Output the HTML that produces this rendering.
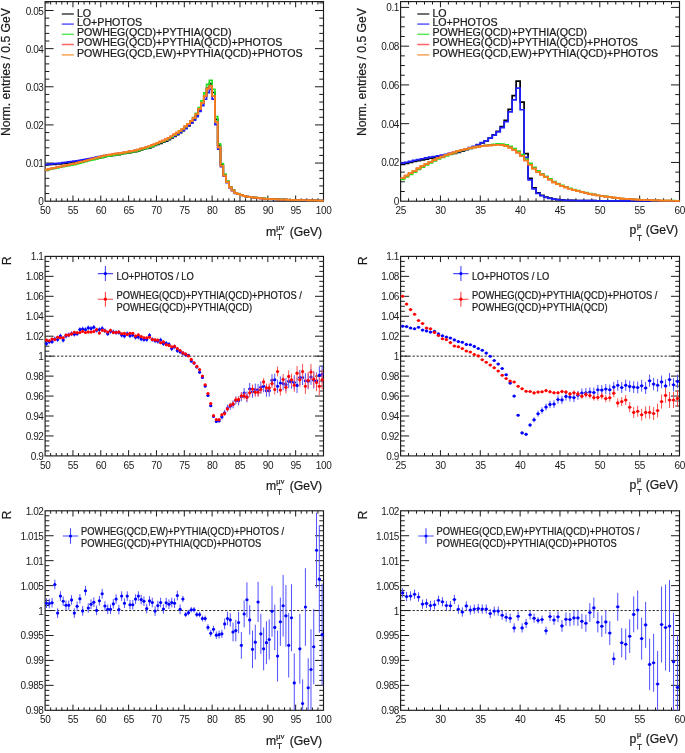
<!DOCTYPE html>
<html><head><meta charset="utf-8"><title>W boson mT and pT distributions</title>
<style>html,body{margin:0;padding:0;background:#fff;}body{width:685px;height:753px;overflow:hidden;}svg{display:block;will-change:transform;}</style>
</head><body>
<svg width="685" height="753" viewBox="0 0 685 753" font-family='"Liberation Sans", sans-serif'>
<style>text{stroke:#1a1a1a;stroke-width:0.22px;}text.t{stroke:none;}</style>
<rect width="685" height="753" fill="#fff"/>
<path d="M50.67 201.2v-2.9M50.67 1.6v2.9M56.24 201.2v-2.9M56.24 1.6v2.9M61.8 201.2v-2.9M61.8 1.6v2.9M67.37 201.2v-2.9M67.37 1.6v2.9M72.94 201.2v-5.7M72.94 1.6v5.7M78.51 201.2v-2.9M78.51 1.6v2.9M84.08 201.2v-2.9M84.08 1.6v2.9M89.64 201.2v-2.9M89.64 1.6v2.9M95.21 201.2v-2.9M95.21 1.6v2.9M100.78 201.2v-5.7M100.78 1.6v5.7M106.35 201.2v-2.9M106.35 1.6v2.9M111.92 201.2v-2.9M111.92 1.6v2.9M117.48 201.2v-2.9M117.48 1.6v2.9M123.05 201.2v-2.9M123.05 1.6v2.9M128.62 201.2v-5.7M128.62 1.6v5.7M134.19 201.2v-2.9M134.19 1.6v2.9M139.76 201.2v-2.9M139.76 1.6v2.9M145.32 201.2v-2.9M145.32 1.6v2.9M150.89 201.2v-2.9M150.89 1.6v2.9M156.46 201.2v-5.7M156.46 1.6v5.7M162.03 201.2v-2.9M162.03 1.6v2.9M167.6 201.2v-2.9M167.6 1.6v2.9M173.16 201.2v-2.9M173.16 1.6v2.9M178.73 201.2v-2.9M178.73 1.6v2.9M184.3 201.2v-5.7M184.3 1.6v5.7M189.87 201.2v-2.9M189.87 1.6v2.9M195.44 201.2v-2.9M195.44 1.6v2.9M201 201.2v-2.9M201 1.6v2.9M206.57 201.2v-2.9M206.57 1.6v2.9M212.14 201.2v-5.7M212.14 1.6v5.7M217.71 201.2v-2.9M217.71 1.6v2.9M223.28 201.2v-2.9M223.28 1.6v2.9M228.84 201.2v-2.9M228.84 1.6v2.9M234.41 201.2v-2.9M234.41 1.6v2.9M239.98 201.2v-5.7M239.98 1.6v5.7M245.55 201.2v-2.9M245.55 1.6v2.9M251.12 201.2v-2.9M251.12 1.6v2.9M256.68 201.2v-2.9M256.68 1.6v2.9M262.25 201.2v-2.9M262.25 1.6v2.9M267.82 201.2v-5.7M267.82 1.6v5.7M273.39 201.2v-2.9M273.39 1.6v2.9M278.96 201.2v-2.9M278.96 1.6v2.9M284.52 201.2v-2.9M284.52 1.6v2.9M290.09 201.2v-2.9M290.09 1.6v2.9M295.66 201.2v-5.7M295.66 1.6v5.7M301.23 201.2v-2.9M301.23 1.6v2.9M306.8 201.2v-2.9M306.8 1.6v2.9M312.36 201.2v-2.9M312.36 1.6v2.9M317.93 201.2v-2.9M317.93 1.6v2.9M45.1 193.57h4.2M323.5 193.57h-4.2M45.1 185.94h4.2M323.5 185.94h-4.2M45.1 178.32h4.2M323.5 178.32h-4.2M45.1 170.69h4.2M323.5 170.69h-4.2M45.1 163.06h8.5M323.5 163.06h-8.5M45.1 155.43h4.2M323.5 155.43h-4.2M45.1 147.8h4.2M323.5 147.8h-4.2M45.1 140.18h4.2M323.5 140.18h-4.2M45.1 132.55h4.2M323.5 132.55h-4.2M45.1 124.92h8.5M323.5 124.92h-8.5M45.1 117.29h4.2M323.5 117.29h-4.2M45.1 109.66h4.2M323.5 109.66h-4.2M45.1 102.04h4.2M323.5 102.04h-4.2M45.1 94.41h4.2M323.5 94.41h-4.2M45.1 86.78h8.5M323.5 86.78h-8.5M45.1 79.15h4.2M323.5 79.15h-4.2M45.1 71.52h4.2M323.5 71.52h-4.2M45.1 63.9h4.2M323.5 63.9h-4.2M45.1 56.27h4.2M323.5 56.27h-4.2M45.1 48.64h8.5M323.5 48.64h-8.5M45.1 41.01h4.2M323.5 41.01h-4.2M45.1 33.38h4.2M323.5 33.38h-4.2M45.1 25.76h4.2M323.5 25.76h-4.2M45.1 18.13h4.2M323.5 18.13h-4.2M45.1 10.5h8.5M323.5 10.5h-8.5M45.1 2.87h4.2M323.5 2.87h-4.2" stroke="#1a1a1a" stroke-width="1" fill="none"/>
<rect x="45.1" y="1.6" width="278.4" height="199.6" fill="none" stroke="#1a1a1a" stroke-width="1.15"/>
<text x="43.5" y="205.2" class="t" text-anchor="end" font-size="10.0" fill="#1a1a1a" letter-spacing="-0.4">0</text>
<text x="43.5" y="167.06" class="t" text-anchor="end" font-size="10.0" fill="#1a1a1a" letter-spacing="-0.4">0.01</text>
<text x="43.5" y="128.92" class="t" text-anchor="end" font-size="10.0" fill="#1a1a1a" letter-spacing="-0.4">0.02</text>
<text x="43.5" y="90.78" class="t" text-anchor="end" font-size="10.0" fill="#1a1a1a" letter-spacing="-0.4">0.03</text>
<text x="43.5" y="52.64" class="t" text-anchor="end" font-size="10.0" fill="#1a1a1a" letter-spacing="-0.4">0.04</text>
<text x="43.5" y="14.5" class="t" text-anchor="end" font-size="10.0" fill="#1a1a1a" letter-spacing="-0.4">0.05</text>
<text x="45.25" y="213.8" class="t" text-anchor="middle" font-size="10.0" fill="#1a1a1a" letter-spacing="-0.3">50</text>
<text x="73.09" y="213.8" class="t" text-anchor="middle" font-size="10.0" fill="#1a1a1a" letter-spacing="-0.3">55</text>
<text x="100.93" y="213.8" class="t" text-anchor="middle" font-size="10.0" fill="#1a1a1a" letter-spacing="-0.3">60</text>
<text x="128.77" y="213.8" class="t" text-anchor="middle" font-size="10.0" fill="#1a1a1a" letter-spacing="-0.3">65</text>
<text x="156.61" y="213.8" class="t" text-anchor="middle" font-size="10.0" fill="#1a1a1a" letter-spacing="-0.3">70</text>
<text x="184.45" y="213.8" class="t" text-anchor="middle" font-size="10.0" fill="#1a1a1a" letter-spacing="-0.3">75</text>
<text x="212.29" y="213.8" class="t" text-anchor="middle" font-size="10.0" fill="#1a1a1a" letter-spacing="-0.3">80</text>
<text x="240.13" y="213.8" class="t" text-anchor="middle" font-size="10.0" fill="#1a1a1a" letter-spacing="-0.3">85</text>
<text x="267.97" y="213.8" class="t" text-anchor="middle" font-size="10.0" fill="#1a1a1a" letter-spacing="-0.3">90</text>
<text x="295.81" y="213.8" class="t" text-anchor="middle" font-size="10.0" fill="#1a1a1a" letter-spacing="-0.3">95</text>
<text x="323.65" y="213.8" class="t" text-anchor="middle" font-size="10.0" fill="#1a1a1a" letter-spacing="-0.3">100</text>
<path d="M45.1 164.93H47.88V164.71H50.67V164.44H53.45V164.28H56.24V164.01H59.02V163.83H61.8V163.29H64.59V163.07H67.37V162.75H70.16V162.44H72.94V162.07H75.72V161.63H78.51V161.3H81.29V160.85H84.08V160.37H86.86V159.99H89.64V159.47H92.43V158.98H95.21V158.33H98V157.83H100.78V157.36H103.56V156.75H106.35V156.2H109.13V155.88H111.92V155.44H114.7V155H117.48V154.58H120.27V154.02H123.05V153.52H125.84V153.17H128.62V152.62H131.4V152.21H134.19V151.57H136.97V150.81H139.76V149.95H142.54V149.15H145.32V148.39H148.11V147.84H150.89V146.55H153.68V145.38H156.46V144.28H159.24V143.35H162.03V142.27H164.81V141.16H167.6V139.72H170.38V137.96H173.16V136.44H175.95V134.54H178.73V132.65H181.52V130.7H184.3V128.44H187.08V125.83H189.87V122.81H192.65V119.7H195.44V115.67H198.22V109.97H201V103.47H203.79V96.1H206.57V88.18H209.36V83.64H212.14V92.52H214.92V119.29H217.71V145.42H220.49V164.44H223.28V174.77H226.06V181.55H228.84V187.06H231.63V190.21H234.41V192.99H237.2V193.77H239.98V194.97H242.76V195.96H245.55V196.59H248.33V197.09H251.12V197.37H253.9V197.67H256.68V197.96H259.47V198.24H262.25V198.5H265.04V198.75H267.82V198.95H270.6V199.12H273.39V199.26H276.17V199.39H278.96V199.52H281.74V199.61H284.52V199.71H287.31V199.81H290.09V199.91H292.88V200H295.66V200.08H298.44V200.14H301.23V200.2H304.01V200.26H306.8V200.32H309.58V200.39H312.36V200.44H315.15V200.5H317.93V200.57H320.72V200.63H323.5" stroke="#000000" stroke-width="1.7" fill="none" stroke-linejoin="miter"/>
<path d="M45.1 164.48H47.88V164.18H50.67V163.91H53.45V163.64H56.24V163.39H59.02V163.07H61.8V162.68H64.59V162.31H67.37V161.93H70.16V161.57H72.94V161.22H75.72V160.74H78.51V160.24H81.29V159.76H84.08V159.28H86.86V158.82H89.64V158.31H92.43V157.76H95.21V157.21H98V156.67H100.78V156.14H103.56V155.62H106.35V155.18H109.13V154.76H111.92V154.33H114.7V153.9H117.48V153.48H120.27V153.02H123.05V152.55H125.84V152.09H128.62V151.63H131.4V151.18H134.19V150.62H136.97V149.84H139.76V149.06H142.54V148.28H145.32V147.5H148.11V146.73H150.89V145.64H153.68V144.52H156.46V143.44H159.24V142.42H162.03V141.53H164.81V140.39H167.6V139H170.38V137.48H173.16V135.83H175.95V134.17H178.73V132.36H181.52V130.5H184.3V128.33H187.08V125.77H189.87V123.2H192.65V120.27H195.44V116.6H198.22V111.44H201V105.55H203.79V99.25H206.57V92.62H209.36V89.47H212.14V99.09H214.92V124.65H217.71V149.04H220.49V166.68H223.28V176.27H226.06V182.57H228.84V187.77H231.63V190.74H234.41V193.35H237.2V194.1H239.98V195.22H242.76V196.15H245.55V196.78H248.33V197.23H251.12V197.51H253.9V197.79H256.68V198.07H259.47V198.33H262.25V198.58H265.04V198.83H267.82V199.03H270.6V199.17H273.39V199.31H276.17V199.45H278.96V199.56H281.74V199.66H284.52V199.75H287.31V199.85H290.09V199.94H292.88V200.03H295.66V200.11H298.44V200.17H301.23V200.23H304.01V200.29H306.8V200.34H309.58V200.4H312.36V200.46H315.15V200.52H317.93V200.58H320.72V200.64H323.5" stroke="#1f1fff" stroke-width="1.7" fill="none" stroke-linejoin="miter"/>
<path d="M45.1 170.04H47.88V169.44H50.67V168.91H53.45V168.31H56.24V167.81H59.02V167.21H61.8V166.64H64.59V166.16H67.37V165.59H70.16V165.06H72.94V164.55H75.72V163.84H78.51V163.12H81.29V162.44H84.08V161.68H86.86V160.97H89.64V160.25H92.43V159.53H95.21V158.88H98V158H100.78V157.4H103.56V156.64H106.35V156.13H109.13V155.78H111.92V155.24H114.7V154.81H117.48V154.41H120.27V153.87H123.05V153.42H125.84V152.89H128.62V152.48H131.4V152.01H134.19V151.31H136.97V150.58H139.76V149.69H142.54V148.83H145.32V148.03H148.11V147.27H150.89V146.04H153.68V144.88H156.46V143.73H159.24V142.46H162.03V141.53H164.81V140.11H167.6V138.56H170.38V136.84H173.16V135.11H175.95V133.19H178.73V131.12H181.52V128.97H184.3V126.6H187.08V123.8H189.87V120.84H192.65V117.49H195.44V113.34H198.22V107.64H201V100.8H203.79V92.82H206.57V84.31H209.36V80.27H212.14V89.27H214.92V116.48H217.71V143.77H220.49V163.52H223.28V174.09H226.06V181.07H228.84V186.76H231.63V189.98H234.41V192.82H237.2V193.63H239.98V194.85H242.76V195.84H245.55V196.49H248.33V196.99H251.12V197.31H253.9V197.59H256.68V197.89H259.47V198.17H262.25V198.46H265.04V198.71H267.82V198.91H270.6V199.07H273.39V199.2H276.17V199.38H278.96V199.47H281.74V199.59H284.52V199.67H287.31V199.79H290.09V199.88H292.88V199.97H295.66V200.07H298.44V200.12H301.23V200.19H304.01V200.24H306.8V200.31H309.58V200.37H312.36V200.43H315.15V200.49H317.93V200.55H320.72V200.61H323.5" stroke="#22e022" stroke-width="1.7" fill="none" stroke-linejoin="miter"/>
<path d="M45.1 169.54H47.88V168.95H50.67V168.36H53.45V167.76H56.24V167.17H59.02V166.58H61.8V166H64.59V165.42H67.37V164.84H70.16V164.25H72.94V163.67H75.72V162.96H78.51V162.22H81.29V161.48H84.08V160.74H86.86V160H89.64V159.25H92.43V158.5H95.21V157.75H98V157.01H100.78V156.26H103.56V155.51H106.35V155.04H109.13V154.6H111.92V154.16H114.7V153.72H117.48V153.28H120.27V152.81H123.05V152.33H125.84V151.85H128.62V151.37H131.4V150.89H134.19V150.31H136.97V149.49H139.76V148.68H142.54V147.87H145.32V147.06H148.11V146.25H150.89V145.12H153.68V143.96H156.46V142.8H159.24V141.67H162.03V140.68H164.81V139.41H167.6V137.89H170.38V136.23H173.16V134.45H175.95V132.68H178.73V130.73H181.52V128.73H184.3V126.45H187.08V123.78H189.87V121.11H192.65V118.05H195.44V114.24H198.22V108.9H201V102.8H203.79V95.93H206.57V88.69H209.36V86.02H212.14V95.93H214.92V121.87H217.71V147.42H220.49V165.73H223.28V175.65H226.06V182.13H228.84V187.47H231.63V190.52H234.41V193.19H237.2V193.95H239.98V195.1H242.76V196.05H245.55V196.69H248.33V197.15H251.12V197.43H253.9V197.72H256.68V198.01H259.47V198.28H262.25V198.53H265.04V198.78H267.82V198.98H270.6V199.13H273.39V199.27H276.17V199.41H278.96V199.53H281.74V199.63H284.52V199.72H287.31V199.82H290.09V199.91H292.88V200.01H295.66V200.09H298.44V200.15H301.23V200.21H304.01V200.27H306.8V200.33H309.58V200.39H312.36V200.45H315.15V200.51H317.93V200.57H320.72V200.63H323.5" stroke="#ff3030" stroke-width="1.7" fill="none" stroke-linejoin="miter"/>
<path d="M45.1 169.54H47.88V168.95H50.67V168.36H53.45V167.76H56.24V167.17H59.02V166.58H61.8V166H64.59V165.42H67.37V164.84H70.16V164.25H72.94V163.67H75.72V162.96H78.51V162.22H81.29V161.48H84.08V160.74H86.86V160H89.64V159.25H92.43V158.5H95.21V157.75H98V157.01H100.78V156.26H103.56V155.51H106.35V155.04H109.13V154.6H111.92V154.16H114.7V153.72H117.48V153.28H120.27V152.81H123.05V152.33H125.84V151.85H128.62V151.37H131.4V150.89H134.19V150.31H136.97V149.49H139.76V148.68H142.54V147.87H145.32V147.06H148.11V146.25H150.89V145.12H153.68V143.96H156.46V142.8H159.24V141.67H162.03V140.68H164.81V139.41H167.6V137.89H170.38V136.23H173.16V134.45H175.95V132.68H178.73V130.73H181.52V128.73H184.3V126.45H187.08V123.78H189.87V121.11H192.65V118.05H195.44V114.24H198.22V108.9H201V102.8H203.79V95.93H206.57V88.69H209.36V86.02H212.14V95.93H214.92V121.87H217.71V147.42H220.49V165.73H223.28V175.65H226.06V182.13H228.84V187.47H231.63V190.52H234.41V193.19H237.2V193.95H239.98V195.1H242.76V196.05H245.55V196.69H248.33V197.15H251.12V197.43H253.9V197.72H256.68V198.01H259.47V198.28H262.25V198.53H265.04V198.78H267.82V198.98H270.6V199.13H273.39V199.27H276.17V199.41H278.96V199.53H281.74V199.63H284.52V199.72H287.31V199.82H290.09V199.91H292.88V200.01H295.66V200.09H298.44V200.15H301.23V200.21H304.01V200.27H306.8V200.33H309.58V200.39H312.36V200.45H315.15V200.51H317.93V200.57H320.72V200.63H323.5" stroke="#f5841f" stroke-width="1.7" fill="none" stroke-linejoin="miter"/>
<text transform="translate(10.4 8) rotate(-90)" text-anchor="end" font-size="12.2" fill="#1a1a1a">Norm. entries / 0.5 GeV</text>
<text x="322.2" y="235.8" text-anchor="end" font-size="12.2" fill="#1a1a1a">(GeV)</text>
<text x="266.1" y="235.8" font-size="12.2" fill="#1a1a1a">m</text>
<text x="275.9" y="229.9" font-size="8.6" fill="#1a1a1a" font-family="Liberation Serif, serif">&#956;&#957;</text>
<text x="276.9" y="240" font-size="8.2" fill="#1a1a1a">T</text>
<path d="M61.8 14h12" stroke="#000000" stroke-width="1.5" opacity="0.75"/>
<text x="76.9" y="16.6" font-size="10.65" fill="#1a1a1a">LO</text>
<path d="M61.8 24.1h12" stroke="#1f1fff" stroke-width="1.5" opacity="0.75"/>
<text x="76.9" y="26.4" font-size="10.65" fill="#1a1a1a">LO+PHOTOS</text>
<path d="M61.8 34.3h12" stroke="#22e022" stroke-width="1.5" opacity="0.75"/>
<text x="76.9" y="36.4" font-size="10.65" fill="#1a1a1a">POWHEG(QCD)+PYTHIA(QCD)</text>
<path d="M61.8 44.5h12" stroke="#ff3030" stroke-width="1.5" opacity="0.75"/>
<text x="76.9" y="46.4" font-size="10.65" fill="#1a1a1a">POWHEG(QCD)+PYTHIA(QCD)+PHOTOS</text>
<path d="M61.8 54.9h12" stroke="#f5841f" stroke-width="1.5" opacity="0.75"/>
<text x="76.9" y="56.6" font-size="10.65" fill="#1a1a1a">POWHEG(QCD,EW)+PYTHIA(QCD)+PHOTOS</text>
<path d="M408.57 201.2v-2.9M408.57 1.6v2.9M416.54 201.2v-2.9M416.54 1.6v2.9M424.51 201.2v-2.9M424.51 1.6v2.9M432.47 201.2v-2.9M432.47 1.6v2.9M440.44 201.2v-5.7M440.44 1.6v5.7M448.41 201.2v-2.9M448.41 1.6v2.9M456.38 201.2v-2.9M456.38 1.6v2.9M464.35 201.2v-2.9M464.35 1.6v2.9M472.32 201.2v-2.9M472.32 1.6v2.9M480.29 201.2v-5.7M480.29 1.6v5.7M488.25 201.2v-2.9M488.25 1.6v2.9M496.22 201.2v-2.9M496.22 1.6v2.9M504.19 201.2v-2.9M504.19 1.6v2.9M512.16 201.2v-2.9M512.16 1.6v2.9M520.13 201.2v-5.7M520.13 1.6v5.7M528.1 201.2v-2.9M528.1 1.6v2.9M536.07 201.2v-2.9M536.07 1.6v2.9M544.03 201.2v-2.9M544.03 1.6v2.9M552 201.2v-2.9M552 1.6v2.9M559.97 201.2v-5.7M559.97 1.6v5.7M567.94 201.2v-2.9M567.94 1.6v2.9M575.91 201.2v-2.9M575.91 1.6v2.9M583.88 201.2v-2.9M583.88 1.6v2.9M591.85 201.2v-2.9M591.85 1.6v2.9M599.81 201.2v-5.7M599.81 1.6v5.7M607.78 201.2v-2.9M607.78 1.6v2.9M615.75 201.2v-2.9M615.75 1.6v2.9M623.72 201.2v-2.9M623.72 1.6v2.9M631.69 201.2v-2.9M631.69 1.6v2.9M639.66 201.2v-5.7M639.66 1.6v5.7M647.63 201.2v-2.9M647.63 1.6v2.9M655.59 201.2v-2.9M655.59 1.6v2.9M663.56 201.2v-2.9M663.56 1.6v2.9M671.53 201.2v-2.9M671.53 1.6v2.9M400.6 191.51h4.2M679.5 191.51h-4.2M400.6 181.82h4.2M679.5 181.82h-4.2M400.6 172.13h4.2M679.5 172.13h-4.2M400.6 162.44h8.5M679.5 162.44h-8.5M400.6 152.75h4.2M679.5 152.75h-4.2M400.6 143.06h4.2M679.5 143.06h-4.2M400.6 133.37h4.2M679.5 133.37h-4.2M400.6 123.68h8.5M679.5 123.68h-8.5M400.6 113.99h4.2M679.5 113.99h-4.2M400.6 104.3h4.2M679.5 104.3h-4.2M400.6 94.61h4.2M679.5 94.61h-4.2M400.6 84.92h8.5M679.5 84.92h-8.5M400.6 75.23h4.2M679.5 75.23h-4.2M400.6 65.54h4.2M679.5 65.54h-4.2M400.6 55.85h4.2M679.5 55.85h-4.2M400.6 46.16h8.5M679.5 46.16h-8.5M400.6 36.47h4.2M679.5 36.47h-4.2M400.6 26.78h4.2M679.5 26.78h-4.2M400.6 17.09h4.2M679.5 17.09h-4.2M400.6 7.4h8.5M679.5 7.4h-8.5" stroke="#1a1a1a" stroke-width="1" fill="none"/>
<rect x="400.6" y="1.6" width="278.9" height="199.6" fill="none" stroke="#1a1a1a" stroke-width="1.15"/>
<text x="399" y="205.2" class="t" text-anchor="end" font-size="10.0" fill="#1a1a1a" letter-spacing="-0.4">0</text>
<text x="399" y="166.44" class="t" text-anchor="end" font-size="10.0" fill="#1a1a1a" letter-spacing="-0.4">0.02</text>
<text x="399" y="127.68" class="t" text-anchor="end" font-size="10.0" fill="#1a1a1a" letter-spacing="-0.4">0.04</text>
<text x="399" y="88.92" class="t" text-anchor="end" font-size="10.0" fill="#1a1a1a" letter-spacing="-0.4">0.06</text>
<text x="399" y="50.16" class="t" text-anchor="end" font-size="10.0" fill="#1a1a1a" letter-spacing="-0.4">0.08</text>
<text x="399" y="11.4" class="t" text-anchor="end" font-size="10.0" fill="#1a1a1a" letter-spacing="-0.4">0.1</text>
<text x="400.75" y="213.8" class="t" text-anchor="middle" font-size="10.0" fill="#1a1a1a" letter-spacing="-0.3">25</text>
<text x="440.59" y="213.8" class="t" text-anchor="middle" font-size="10.0" fill="#1a1a1a" letter-spacing="-0.3">30</text>
<text x="480.44" y="213.8" class="t" text-anchor="middle" font-size="10.0" fill="#1a1a1a" letter-spacing="-0.3">35</text>
<text x="520.28" y="213.8" class="t" text-anchor="middle" font-size="10.0" fill="#1a1a1a" letter-spacing="-0.3">40</text>
<text x="560.12" y="213.8" class="t" text-anchor="middle" font-size="10.0" fill="#1a1a1a" letter-spacing="-0.3">45</text>
<text x="599.96" y="213.8" class="t" text-anchor="middle" font-size="10.0" fill="#1a1a1a" letter-spacing="-0.3">50</text>
<text x="639.81" y="213.8" class="t" text-anchor="middle" font-size="10.0" fill="#1a1a1a" letter-spacing="-0.3">55</text>
<text x="679.65" y="213.8" class="t" text-anchor="middle" font-size="10.0" fill="#1a1a1a" letter-spacing="-0.3">60</text>
<path d="M400.6 164.32H404.58V163.4H408.57V162.43H412.55V161.49H416.54V160.75H420.52V159.85H424.51V159.03H428.49V158.23H432.47V157.57H436.46V156.78H440.44V156.01H444.43V155.16H448.41V154.26H452.4V153.32H456.38V152.39H460.36V151.12H464.35V149.73H468.33V148.32H472.32V146.76H476.3V144.93H480.29V143.01H484.27V140.92H488.25V138.21H492.24V134.82H496.22V131.27H500.21V126.63H504.19V120.24H508.18V109.38H512.16V95.62H516.14V81.11H520.13V102.11H524.11V153.68H528.1V178.3H532.08V187.95H536.07V192.97H540.05V195.46H544.03V197.12H548.02V198.21H552V199.01H555.99V199.53H559.97V199.93H563.96V200.24H567.94V200.42H571.92V200.47H575.91V200.52H579.89V200.57H583.88V200.62H587.86V200.65H591.85V200.69H595.83V200.73H599.81V200.77H603.8V200.81H607.78V200.84H611.77V200.88H615.75V200.9H619.74V200.91H623.72V200.92H627.7V200.92H631.69V200.93H635.67V200.94H639.66V200.94H643.64V200.95H647.63V200.96H651.61V200.96H655.59V200.97H659.58V200.98H663.56V200.98H667.55V200.99H671.53V200.99H675.52V201H679.5" stroke="#000000" stroke-width="1.7" fill="none" stroke-linejoin="miter"/>
<path d="M400.6 163.22H404.58V162.28H408.57V161.34H412.55V160.4H416.54V159.58H420.52V158.77H424.51V157.97H428.49V157.19H432.47V156.49H436.46V155.79H440.44V155.09H444.43V154.27H448.41V153.41H452.4V152.54H456.38V151.67H460.36V150.42H464.35V149.12H468.33V147.72H472.32V146.23H476.3V144.5H480.29V142.67H484.27V140.73H488.25V138.22H492.24V135.11H496.22V131.82H500.21V127.56H504.19V121.74H508.18V111.86H512.16V99.84H516.14V88.21H520.13V109.73H524.11V157.4H528.1V179.88H532.08V188.8H536.07V193.45H540.05V195.77H544.03V197.32H548.02V198.36H552V199.12H555.99V199.6H559.97V199.99H563.96V200.28H567.94V200.45H571.92V200.5H575.91V200.55H579.89V200.59H583.88V200.64H587.86V200.67H591.85V200.71H595.83V200.75H599.81V200.78H603.8V200.82H607.78V200.85H611.77V200.89H615.75V200.91H619.74V200.92H623.72V200.92H627.7V200.93H631.69V200.94H635.67V200.94H639.66V200.95H643.64V200.96H647.63V200.96H651.61V200.97H655.59V200.97H659.58V200.98H663.56V200.99H667.55V200.99H671.53V201H675.52V201.01H679.5" stroke="#1f1fff" stroke-width="1.7" fill="none" stroke-linejoin="miter"/>
<path d="M400.6 179.44H404.58V176.87H408.57V174.43H412.55V172.04H416.54V169.48H420.52V167.04H424.51V164.9H428.49V162.91H432.47V160.88H436.46V159.02H440.44V157.29H444.43V155.82H448.41V154.3H452.4V152.8H456.38V151.42H460.36V150.33H464.35V149.25H468.33V148.34H472.32V147.41H476.3V146.69H480.29V145.94H484.27V145.37H488.25V144.85H492.24V144.37H496.22V143.9H500.21V144H504.19V144.8H508.18V146.3H512.16V148.53H516.14V151.04H520.13V154.62H524.11V159.02H528.1V163.43H532.08V167.4H536.07V170.94H540.05V173.74H544.03V176.34H548.02V178.96H552V181.62H555.99V183.5H559.97V185.28H563.96V186.84H567.94V188.28H571.92V189.52H575.91V190.68H579.89V191.78H583.88V192.69H587.86V193.49H591.85V194.35H595.83V195.25H599.81V195.85H603.8V196.4H607.78V196.96H611.77V197.54H615.75V198.07H619.74V198.53H623.72V198.87H627.7V199.11H631.69V199.33H635.67V199.62H639.66V199.84H643.64V199.99H647.63V200.15H651.61V200.3H655.59V200.42H659.58V200.5H663.56V200.58H667.55V200.65H671.53V200.72H675.52V200.8H679.5" stroke="#22e022" stroke-width="1.7" fill="none" stroke-linejoin="miter"/>
<path d="M400.6 178.14H404.58V175.6H408.57V173.19H412.55V170.82H416.54V168.35H420.52V165.92H424.51V163.87H428.49V161.86H432.47V159.92H436.46V158.14H440.44V156.53H444.43V155.06H448.41V153.67H452.4V152.3H456.38V150.95H460.36V149.94H464.35V148.98H468.33V148.12H472.32V147.32H476.3V146.68H480.29V146.14H484.27V145.71H488.25V145.35H492.24V145.03H496.22V144.75H500.21V145.09H504.19V146.06H508.18V147.66H512.16V149.89H516.14V152.56H520.13V156.14H524.11V160.5H528.1V164.77H532.08V168.64H536.07V172.03H540.05V174.72H544.03V177.2H548.02V179.75H552V182.34H555.99V184.15H559.97V185.85H563.96V187.35H567.94V188.76H571.92V189.95H575.91V191.08H579.89V192.16H583.88V193.02H587.86V193.8H591.85V194.63H595.83V195.49H599.81V196.06H603.8V196.6H607.78V197.14H611.77V197.68H615.75V198.22H619.74V198.65H623.72V198.97H627.7V199.22H631.69V199.43H635.67V199.7H639.66V199.92H643.64V200.06H647.63V200.21H651.61V200.35H655.59V200.46H659.58V200.53H663.56V200.6H667.55V200.67H671.53V200.74H675.52V200.81H679.5" stroke="#ff3030" stroke-width="1.7" fill="none" stroke-linejoin="miter"/>
<path d="M400.6 178.14H404.58V175.6H408.57V173.19H412.55V170.82H416.54V168.35H420.52V165.92H424.51V163.87H428.49V161.86H432.47V159.92H436.46V158.14H440.44V156.53H444.43V155.06H448.41V153.67H452.4V152.3H456.38V150.95H460.36V149.94H464.35V148.98H468.33V148.12H472.32V147.32H476.3V146.68H480.29V146.14H484.27V145.71H488.25V145.35H492.24V145.03H496.22V144.75H500.21V145.09H504.19V146.06H508.18V147.66H512.16V149.89H516.14V152.56H520.13V156.14H524.11V160.5H528.1V164.77H532.08V168.64H536.07V172.03H540.05V174.72H544.03V177.2H548.02V179.75H552V182.34H555.99V184.15H559.97V185.85H563.96V187.35H567.94V188.76H571.92V189.95H575.91V191.08H579.89V192.16H583.88V193.02H587.86V193.8H591.85V194.63H595.83V195.49H599.81V196.06H603.8V196.6H607.78V197.14H611.77V197.68H615.75V198.22H619.74V198.65H623.72V198.97H627.7V199.22H631.69V199.43H635.67V199.7H639.66V199.92H643.64V200.06H647.63V200.21H651.61V200.35H655.59V200.46H659.58V200.53H663.56V200.6H667.55V200.67H671.53V200.74H675.52V200.81H679.5" stroke="#f5841f" stroke-width="1.7" fill="none" stroke-linejoin="miter"/>
<text transform="translate(366.3 8) rotate(-90)" text-anchor="end" font-size="12.2" fill="#1a1a1a">Norm. entries / 0.5 GeV</text>
<text x="678.2" y="234.2" text-anchor="end" font-size="12.2" fill="#1a1a1a">(GeV)</text>
<text x="629.4" y="234.2" font-size="12.2" fill="#1a1a1a">p</text>
<text x="636.7" y="227.9" font-size="8.6" fill="#1a1a1a" font-family="Liberation Serif, serif">&#956;</text>
<text x="636.9" y="240.7" font-size="8.2" fill="#1a1a1a">T</text>
<g transform="translate(355.5 0)">
<path d="M61.8 14h12" stroke="#000000" stroke-width="1.5" opacity="0.75"/>
<text x="76.9" y="16.6" font-size="10.65" fill="#1a1a1a">LO</text>
<path d="M61.8 24.1h12" stroke="#1f1fff" stroke-width="1.5" opacity="0.75"/>
<text x="76.9" y="26.4" font-size="10.65" fill="#1a1a1a">LO+PHOTOS</text>
<path d="M61.8 34.3h12" stroke="#22e022" stroke-width="1.5" opacity="0.75"/>
<text x="76.9" y="36.4" font-size="10.65" fill="#1a1a1a">POWHEG(QCD)+PYTHIA(QCD)</text>
<path d="M61.8 44.5h12" stroke="#ff3030" stroke-width="1.5" opacity="0.75"/>
<text x="76.9" y="46.4" font-size="10.65" fill="#1a1a1a">POWHEG(QCD)+PYTHIA(QCD)+PHOTOS</text>
<path d="M61.8 54.9h12" stroke="#f5841f" stroke-width="1.5" opacity="0.75"/>
<text x="76.9" y="56.6" font-size="10.65" fill="#1a1a1a">POWHEG(QCD,EW)+PYTHIA(QCD)+PHOTOS</text>
</g>
<path d="M50.67 455.9v-2.9M50.67 256.4v2.9M56.24 455.9v-2.9M56.24 256.4v2.9M61.8 455.9v-2.9M61.8 256.4v2.9M67.37 455.9v-2.9M67.37 256.4v2.9M72.94 455.9v-5.7M72.94 256.4v5.7M78.51 455.9v-2.9M78.51 256.4v2.9M84.08 455.9v-2.9M84.08 256.4v2.9M89.64 455.9v-2.9M89.64 256.4v2.9M95.21 455.9v-2.9M95.21 256.4v2.9M100.78 455.9v-5.7M100.78 256.4v5.7M106.35 455.9v-2.9M106.35 256.4v2.9M111.92 455.9v-2.9M111.92 256.4v2.9M117.48 455.9v-2.9M117.48 256.4v2.9M123.05 455.9v-2.9M123.05 256.4v2.9M128.62 455.9v-5.7M128.62 256.4v5.7M134.19 455.9v-2.9M134.19 256.4v2.9M139.76 455.9v-2.9M139.76 256.4v2.9M145.32 455.9v-2.9M145.32 256.4v2.9M150.89 455.9v-2.9M150.89 256.4v2.9M156.46 455.9v-5.7M156.46 256.4v5.7M162.03 455.9v-2.9M162.03 256.4v2.9M167.6 455.9v-2.9M167.6 256.4v2.9M173.16 455.9v-2.9M173.16 256.4v2.9M178.73 455.9v-2.9M178.73 256.4v2.9M184.3 455.9v-5.7M184.3 256.4v5.7M189.87 455.9v-2.9M189.87 256.4v2.9M195.44 455.9v-2.9M195.44 256.4v2.9M201 455.9v-2.9M201 256.4v2.9M206.57 455.9v-2.9M206.57 256.4v2.9M212.14 455.9v-5.7M212.14 256.4v5.7M217.71 455.9v-2.9M217.71 256.4v2.9M223.28 455.9v-2.9M223.28 256.4v2.9M228.84 455.9v-2.9M228.84 256.4v2.9M234.41 455.9v-2.9M234.41 256.4v2.9M239.98 455.9v-5.7M239.98 256.4v5.7M245.55 455.9v-2.9M245.55 256.4v2.9M251.12 455.9v-2.9M251.12 256.4v2.9M256.68 455.9v-2.9M256.68 256.4v2.9M262.25 455.9v-2.9M262.25 256.4v2.9M267.82 455.9v-5.7M267.82 256.4v5.7M273.39 455.9v-2.9M273.39 256.4v2.9M278.96 455.9v-2.9M278.96 256.4v2.9M284.52 455.9v-2.9M284.52 256.4v2.9M290.09 455.9v-2.9M290.09 256.4v2.9M295.66 455.9v-5.7M295.66 256.4v5.7M301.23 455.9v-2.9M301.23 256.4v2.9M306.8 455.9v-2.9M306.8 256.4v2.9M312.36 455.9v-2.9M312.36 256.4v2.9M317.93 455.9v-2.9M317.93 256.4v2.9M45.1 450.91h4.2M323.5 450.91h-4.2M45.1 445.92h4.2M323.5 445.92h-4.2M45.1 440.94h4.2M323.5 440.94h-4.2M45.1 435.95h8.5M323.5 435.95h-8.5M45.1 430.96h4.2M323.5 430.96h-4.2M45.1 425.97h4.2M323.5 425.97h-4.2M45.1 420.99h4.2M323.5 420.99h-4.2M45.1 416h8.5M323.5 416h-8.5M45.1 411.01h4.2M323.5 411.01h-4.2M45.1 406.02h4.2M323.5 406.02h-4.2M45.1 401.04h4.2M323.5 401.04h-4.2M45.1 396.05h8.5M323.5 396.05h-8.5M45.1 391.06h4.2M323.5 391.06h-4.2M45.1 386.08h4.2M323.5 386.08h-4.2M45.1 381.09h4.2M323.5 381.09h-4.2M45.1 376.1h8.5M323.5 376.1h-8.5M45.1 371.11h4.2M323.5 371.11h-4.2M45.1 366.13h4.2M323.5 366.13h-4.2M45.1 361.14h4.2M323.5 361.14h-4.2M45.1 356.15h8.5M323.5 356.15h-8.5M45.1 351.16h4.2M323.5 351.16h-4.2M45.1 346.18h4.2M323.5 346.18h-4.2M45.1 341.19h4.2M323.5 341.19h-4.2M45.1 336.2h8.5M323.5 336.2h-8.5M45.1 331.21h4.2M323.5 331.21h-4.2M45.1 326.23h4.2M323.5 326.23h-4.2M45.1 321.24h4.2M323.5 321.24h-4.2M45.1 316.25h8.5M323.5 316.25h-8.5M45.1 311.26h4.2M323.5 311.26h-4.2M45.1 306.27h4.2M323.5 306.27h-4.2M45.1 301.29h4.2M323.5 301.29h-4.2M45.1 296.3h8.5M323.5 296.3h-8.5M45.1 291.31h4.2M323.5 291.31h-4.2M45.1 286.32h4.2M323.5 286.32h-4.2M45.1 281.34h4.2M323.5 281.34h-4.2M45.1 276.35h8.5M323.5 276.35h-8.5M45.1 271.36h4.2M323.5 271.36h-4.2M45.1 266.38h4.2M323.5 266.38h-4.2M45.1 261.39h4.2M323.5 261.39h-4.2" stroke="#1a1a1a" stroke-width="1" fill="none"/>
<rect x="45.1" y="256.4" width="278.4" height="199.5" fill="none" stroke="#1a1a1a" stroke-width="1.15"/>
<text x="43.5" y="459.9" class="t" text-anchor="end" font-size="10.0" fill="#1a1a1a" letter-spacing="-0.4">0.9</text>
<text x="43.5" y="439.95" class="t" text-anchor="end" font-size="10.0" fill="#1a1a1a" letter-spacing="-0.4">0.92</text>
<text x="43.5" y="420" class="t" text-anchor="end" font-size="10.0" fill="#1a1a1a" letter-spacing="-0.4">0.94</text>
<text x="43.5" y="400.05" class="t" text-anchor="end" font-size="10.0" fill="#1a1a1a" letter-spacing="-0.4">0.96</text>
<text x="43.5" y="380.1" class="t" text-anchor="end" font-size="10.0" fill="#1a1a1a" letter-spacing="-0.4">0.98</text>
<text x="43.5" y="360.15" class="t" text-anchor="end" font-size="10.0" fill="#1a1a1a" letter-spacing="-0.4">1</text>
<text x="43.5" y="340.2" class="t" text-anchor="end" font-size="10.0" fill="#1a1a1a" letter-spacing="-0.4">1.02</text>
<text x="43.5" y="320.25" class="t" text-anchor="end" font-size="10.0" fill="#1a1a1a" letter-spacing="-0.4">1.04</text>
<text x="43.5" y="300.3" class="t" text-anchor="end" font-size="10.0" fill="#1a1a1a" letter-spacing="-0.4">1.06</text>
<text x="43.5" y="280.35" class="t" text-anchor="end" font-size="10.0" fill="#1a1a1a" letter-spacing="-0.4">1.08</text>
<text x="43.5" y="260.4" class="t" text-anchor="end" font-size="10.0" fill="#1a1a1a" letter-spacing="-0.4">1.1</text>
<text x="45.25" y="468.5" class="t" text-anchor="middle" font-size="10.0" fill="#1a1a1a" letter-spacing="-0.3">50</text>
<text x="73.09" y="468.5" class="t" text-anchor="middle" font-size="10.0" fill="#1a1a1a" letter-spacing="-0.3">55</text>
<text x="100.93" y="468.5" class="t" text-anchor="middle" font-size="10.0" fill="#1a1a1a" letter-spacing="-0.3">60</text>
<text x="128.77" y="468.5" class="t" text-anchor="middle" font-size="10.0" fill="#1a1a1a" letter-spacing="-0.3">65</text>
<text x="156.61" y="468.5" class="t" text-anchor="middle" font-size="10.0" fill="#1a1a1a" letter-spacing="-0.3">70</text>
<text x="184.45" y="468.5" class="t" text-anchor="middle" font-size="10.0" fill="#1a1a1a" letter-spacing="-0.3">75</text>
<text x="212.29" y="468.5" class="t" text-anchor="middle" font-size="10.0" fill="#1a1a1a" letter-spacing="-0.3">80</text>
<text x="240.13" y="468.5" class="t" text-anchor="middle" font-size="10.0" fill="#1a1a1a" letter-spacing="-0.3">85</text>
<text x="267.97" y="468.5" class="t" text-anchor="middle" font-size="10.0" fill="#1a1a1a" letter-spacing="-0.3">90</text>
<text x="295.81" y="468.5" class="t" text-anchor="middle" font-size="10.0" fill="#1a1a1a" letter-spacing="-0.3">95</text>
<text x="323.65" y="468.5" class="t" text-anchor="middle" font-size="10.0" fill="#1a1a1a" letter-spacing="-0.3">100</text>
<path d="M45.1 356.15H323.5" stroke="#222" stroke-width="1" stroke-dasharray="2.2 1.8"/>
<path d="M46.49 341.21V346.01M45.09 343.61h2.8M49.28 339.46V344.26M47.88 341.86h2.8M52.06 339.23V344.03M50.66 341.63h2.8M54.84 336.54V341.34M53.44 338.94h2.8M57.63 337.13V341.93M56.23 339.53h2.8M60.41 333.62V338.42M59.01 336.02h2.8M63.2 337.71V342.51M61.8 340.11h2.8M65.98 333.62V338.42M64.58 336.02h2.8M68.76 332.45V337.25M67.36 334.85h2.8M71.55 331.29V336.09M70.15 333.69h2.8M74.33 331.87V336.67M72.93 334.27h2.8M77.12 331.29V336.09M75.72 333.69h2.8M79.9 327.2V332M78.5 329.6h2.8M82.68 326.61V331.41M81.28 329.01h2.8M85.47 327.2V332M84.07 329.6h2.8M88.25 325.45V330.25M86.85 327.85h2.8M91.04 326.03V330.83M89.64 328.43h2.8M93.82 324.86V329.66M92.42 327.26h2.8M96.6 327.78V332.58M95.2 330.18h2.8M99.39 327.2V332M97.99 329.6h2.8M102.17 326.03V330.83M100.77 328.43h2.8M104.96 328.37V333.17M103.56 330.77h2.8M107.74 331.29V336.09M106.34 333.69h2.8M110.52 328.95V333.75M109.12 331.35h2.8M113.31 329.53V334.33M111.91 331.93h2.8M116.09 330.12V334.92M114.69 332.52h2.8M118.88 330.12V334.92M117.48 332.52h2.8M121.66 332.7V337.5M120.26 335.1h2.8M124.44 333.6V338.4M123.04 336h2.8M127.23 331.3V336.1M125.83 333.7h2.8M130.01 333.4V338.2M128.61 335.8h2.8M132.8 332.7V337.5M131.4 335.1h2.8M135.58 334.8V339.6M134.18 337.2h2.8M138.36 334.6V339.4M136.96 337h2.8M141.15 336.5V341.3M139.75 338.9h2.8M143.93 337.1V341.9M142.53 339.5h2.8M146.72 337.1V341.9M145.32 339.5h2.8M149.5 333V337.8M148.1 335.4h2.8M152.28 337.1V341.9M150.88 339.5h2.8M155.07 338.3V343.1M153.67 340.7h2.8M157.85 338.9V343.7M156.45 341.3h2.8M160.64 337.7V342.5M159.24 340.1h2.8M163.42 341.2V346M162.02 343.6h2.8M166.2 341V345.8M164.8 343.4h2.8M168.99 342V346.8M167.59 344.4h2.8M171.77 346.2V351M170.37 348.6h2.8M174.56 344.4V349.2M173.16 346.8h2.8M177.34 348.2V353M175.94 350.6h2.8M180.12 349.4V354.2M178.72 351.8h2.8M182.91 350.9V355.7M181.51 353.3h2.8M185.69 352.3V357.1M184.29 354.7h2.8M188.48 354V356.6M187.08 355.3h2.8M191.26 359.8V362.4M189.86 361.1h2.8M194.04 361.8V364.4M192.64 363.1h2.8M196.83 365.7V368.3M195.43 367h2.8M199.61 371V373.6M198.21 372.3h2.8M202.4 376.1V378.7M201 377.4h2.8M205.18 384.8V387.4M203.78 386.1h2.8M207.96 394.1V396.7M206.56 395.4h2.8M210.75 404.4V407M209.35 405.7h2.8M213.53 415.2V417.8M212.13 416.5h2.8M216.32 420.1V422.7M214.92 421.4h2.8M219.1 419.6V422.2M217.7 420.9h2.8M221.88 414.4V419.4M220.48 416.9h2.8M224.67 409.7V415.7M223.27 412.7h2.8M227.45 404.7V411.7M226.05 408.2h2.8M230.24 402.8V409.8M228.84 406.3h2.8M233.02 400.4V408.4M231.62 404.4h2.8M235.8 396.4V404.4M234.4 400.4h2.8M238.59 396.3V405.3M237.19 400.8h2.8M241.37 392.2V401.2M239.97 396.7h2.8M244.16 388V398M242.76 393h2.8M246.94 391.4V402.4M245.54 396.9h2.8M249.72 382.99V395.04M248.32 389.02h2.8M252.51 385.73V397.78M251.11 391.75h2.8M255.29 383.54V395.59M253.89 389.56h2.8M258.08 384.09V396.13M256.68 390.11h2.8M260.86 381.35V393.4M259.46 387.37h2.8M263.64 380.26V392.3M262.24 386.28h2.8M266.43 384.64V396.68M265.03 390.66h2.8M269.21 384.64V396.68M267.81 390.66h2.8M272 374.23V386.28M270.6 380.26h2.8M274.78 373.69V385.73M273.38 379.71h2.8M277.56 379.71V392.85M276.16 386.28h2.8M280.35 376.42V389.56M278.95 382.99h2.8M283.13 376.97V390.11M281.73 383.54h2.8M285.92 378.07V391.21M284.52 384.64h2.8M288.7 374.56V388.14M287.3 381.35h2.8M291.48 375.11V388.69M290.08 381.9h2.8M294.27 375.33V389.56M292.87 382.45h2.8M297.05 377.74V393.07M295.65 385.4h2.8M299.84 369.85V385.18M298.44 377.52h2.8M302.62 369.85V385.18M301.22 377.52h2.8M305.4 373.14V388.47M304 380.8h2.8M308.19 373.47V389.23M306.79 381.35h2.8M310.97 369.09V384.85M309.57 376.97h2.8M313.76 372.04V388.47M312.36 380.26h2.8M316.54 372.59V389.02M315.14 380.8h2.8M319.32 366.79V383.87M317.92 375.33h2.8M322.11 365.47V382.99M320.71 374.23h2.8" stroke="#5050ff" stroke-width="1" fill="none"/>
<g fill="#0000ff"><circle cx="46.49" cy="343.61" r="1.55"/><circle cx="49.28" cy="341.86" r="1.55"/><circle cx="52.06" cy="341.63" r="1.55"/><circle cx="54.84" cy="338.94" r="1.55"/><circle cx="57.63" cy="339.53" r="1.55"/><circle cx="60.41" cy="336.02" r="1.55"/><circle cx="63.2" cy="340.11" r="1.55"/><circle cx="65.98" cy="336.02" r="1.55"/><circle cx="68.76" cy="334.85" r="1.55"/><circle cx="71.55" cy="333.69" r="1.55"/><circle cx="74.33" cy="334.27" r="1.55"/><circle cx="77.12" cy="333.69" r="1.55"/><circle cx="79.9" cy="329.6" r="1.55"/><circle cx="82.68" cy="329.01" r="1.55"/><circle cx="85.47" cy="329.6" r="1.55"/><circle cx="88.25" cy="327.85" r="1.55"/><circle cx="91.04" cy="328.43" r="1.55"/><circle cx="93.82" cy="327.26" r="1.55"/><circle cx="96.6" cy="330.18" r="1.55"/><circle cx="99.39" cy="329.6" r="1.55"/><circle cx="102.17" cy="328.43" r="1.55"/><circle cx="104.96" cy="330.77" r="1.55"/><circle cx="107.74" cy="333.69" r="1.55"/><circle cx="110.52" cy="331.35" r="1.55"/><circle cx="113.31" cy="331.93" r="1.55"/><circle cx="116.09" cy="332.52" r="1.55"/><circle cx="118.88" cy="332.52" r="1.55"/><circle cx="121.66" cy="335.1" r="1.55"/><circle cx="124.44" cy="336" r="1.55"/><circle cx="127.23" cy="333.7" r="1.55"/><circle cx="130.01" cy="335.8" r="1.55"/><circle cx="132.8" cy="335.1" r="1.55"/><circle cx="135.58" cy="337.2" r="1.55"/><circle cx="138.36" cy="337" r="1.55"/><circle cx="141.15" cy="338.9" r="1.55"/><circle cx="143.93" cy="339.5" r="1.55"/><circle cx="146.72" cy="339.5" r="1.55"/><circle cx="149.5" cy="335.4" r="1.55"/><circle cx="152.28" cy="339.5" r="1.55"/><circle cx="155.07" cy="340.7" r="1.55"/><circle cx="157.85" cy="341.3" r="1.55"/><circle cx="160.64" cy="340.1" r="1.55"/><circle cx="163.42" cy="343.6" r="1.55"/><circle cx="166.2" cy="343.4" r="1.55"/><circle cx="168.99" cy="344.4" r="1.55"/><circle cx="171.77" cy="348.6" r="1.55"/><circle cx="174.56" cy="346.8" r="1.55"/><circle cx="177.34" cy="350.6" r="1.55"/><circle cx="180.12" cy="351.8" r="1.55"/><circle cx="182.91" cy="353.3" r="1.55"/><circle cx="185.69" cy="354.7" r="1.55"/><circle cx="188.48" cy="355.3" r="1.55"/><circle cx="191.26" cy="361.1" r="1.55"/><circle cx="194.04" cy="363.1" r="1.55"/><circle cx="196.83" cy="367" r="1.55"/><circle cx="199.61" cy="372.3" r="1.55"/><circle cx="202.4" cy="377.4" r="1.55"/><circle cx="205.18" cy="386.1" r="1.55"/><circle cx="207.96" cy="395.4" r="1.55"/><circle cx="210.75" cy="405.7" r="1.55"/><circle cx="213.53" cy="416.5" r="1.55"/><circle cx="216.32" cy="421.4" r="1.55"/><circle cx="219.1" cy="420.9" r="1.55"/><circle cx="221.88" cy="416.9" r="1.55"/><circle cx="224.67" cy="412.7" r="1.55"/><circle cx="227.45" cy="408.2" r="1.55"/><circle cx="230.24" cy="406.3" r="1.55"/><circle cx="233.02" cy="404.4" r="1.55"/><circle cx="235.8" cy="400.4" r="1.55"/><circle cx="238.59" cy="400.8" r="1.55"/><circle cx="241.37" cy="396.7" r="1.55"/><circle cx="244.16" cy="393" r="1.55"/><circle cx="246.94" cy="396.9" r="1.55"/><circle cx="249.72" cy="389.02" r="1.55"/><circle cx="252.51" cy="391.75" r="1.55"/><circle cx="255.29" cy="389.56" r="1.55"/><circle cx="258.08" cy="390.11" r="1.55"/><circle cx="260.86" cy="387.37" r="1.55"/><circle cx="263.64" cy="386.28" r="1.55"/><circle cx="266.43" cy="390.66" r="1.55"/><circle cx="269.21" cy="390.66" r="1.55"/><circle cx="272" cy="380.26" r="1.55"/><circle cx="274.78" cy="379.71" r="1.55"/><circle cx="277.56" cy="386.28" r="1.55"/><circle cx="280.35" cy="382.99" r="1.55"/><circle cx="283.13" cy="383.54" r="1.55"/><circle cx="285.92" cy="384.64" r="1.55"/><circle cx="288.7" cy="381.35" r="1.55"/><circle cx="291.48" cy="381.9" r="1.55"/><circle cx="294.27" cy="382.45" r="1.55"/><circle cx="297.05" cy="385.4" r="1.55"/><circle cx="299.84" cy="377.52" r="1.55"/><circle cx="302.62" cy="377.52" r="1.55"/><circle cx="305.4" cy="380.8" r="1.55"/><circle cx="308.19" cy="381.35" r="1.55"/><circle cx="310.97" cy="376.97" r="1.55"/><circle cx="313.76" cy="380.26" r="1.55"/><circle cx="316.54" cy="380.8" r="1.55"/><circle cx="319.32" cy="375.33" r="1.55"/><circle cx="322.11" cy="374.23" r="1.55"/></g>
<path d="M46.49 338.71V341.51M45.09 340.11h2.8M49.28 339.29V342.09M47.88 340.69h2.8M52.06 337.54V340.34M50.66 338.94h2.8M54.84 338.13V340.93M53.44 339.53h2.8M57.63 335.79V338.59M56.23 337.19h2.8M60.41 336.37V339.17M59.01 337.77h2.8M63.2 336.37V339.17M61.8 337.77h2.8M65.98 333.69V336.49M64.58 335.09h2.8M68.76 333.69V336.49M67.36 335.09h2.8M71.55 332.52V335.32M70.15 333.92h2.8M74.33 330.88V333.68M72.93 332.28h2.8M77.12 331.35V334.15M75.72 332.75h2.8M79.9 331.12V333.92M78.5 332.52h2.8M82.68 329.95V332.75M81.28 331.35h2.8M85.47 331.12V333.92M84.07 332.52h2.8M88.25 330.53V333.33M86.85 331.93h2.8M91.04 330.53V333.33M89.64 331.93h2.8M93.82 330.18V332.98M92.42 331.58h2.8M96.6 328.2V331M95.2 329.6h2.8M99.39 331.7V334.5M97.99 333.1h2.8M102.17 328.78V331.58M100.77 330.18h2.8M104.96 329.37V332.17M103.56 330.77h2.8M107.74 330.53V333.33M106.34 331.93h2.8M110.52 328.78V331.58M109.12 330.18h2.8M113.31 331.12V333.92M111.91 332.52h2.8M116.09 331.12V333.92M114.69 332.52h2.8M118.88 330.53V333.33M117.48 331.93h2.8M121.66 332.3V335.1M120.26 333.7h2.8M124.44 332V334.8M123.04 333.4h2.8M127.23 333.2V336M125.83 334.6h2.8M130.01 331.9V334.7M128.61 333.3h2.8M132.8 331.9V334.7M131.4 333.3h2.8M135.58 334.6V337.4M134.18 336h2.8M138.36 333.4V336.2M136.96 334.8h2.8M141.15 335.2V338M139.75 336.6h2.8M143.93 336.4V339.2M142.53 337.8h2.8M146.72 336.4V339.2M145.32 337.8h2.8M149.5 335.8V338.6M148.1 337.2h2.8M152.28 338.1V340.9M150.88 339.5h2.8M155.07 338.5V341.3M153.67 339.9h2.8M157.85 338.7V341.5M156.45 340.1h2.8M160.64 341.4V344.2M159.24 342.8h2.8M163.42 340.5V343.3M162.02 341.9h2.8M166.2 343.4V346.2M164.8 344.8h2.8M168.99 344V346.8M167.59 345.4h2.8M171.77 345.4V348.2M170.37 346.8h2.8M174.56 344.9V347.7M173.16 346.3h2.8M177.34 347.2V350M175.94 348.6h2.8M180.12 349.2V352M178.72 350.6h2.8M182.91 351.5V354.3M181.51 352.9h2.8M185.69 352.7V355.5M184.29 354.1h2.8M188.48 354.9V356.9M187.08 355.9h2.8M191.26 358.4V360.4M189.86 359.4h2.8M194.04 361.9V363.9M192.64 362.9h2.8M196.83 365.4V367.4M195.43 366.4h2.8M199.61 368.6V370.6M198.21 369.6h2.8M202.4 375V377M201 376h2.8M205.18 383.8V385.8M203.78 384.8h2.8M207.96 392.5V394.5M206.56 393.5h2.8M210.75 402.6V404.6M209.35 403.6h2.8M213.53 414.6V416.6M212.13 415.6h2.8M216.32 418.6V420.6M214.92 419.6h2.8M219.1 418.6V420.6M217.7 419.6h2.8M221.88 413.3V416.3M220.48 414.8h2.8M224.67 411.5V415.5M223.27 413.5h2.8M227.45 406.9V410.9M226.05 408.9h2.8M230.24 402.7V407.7M228.84 405.2h2.8M233.02 401.4V406.4M231.62 403.9h2.8M235.8 396.9V402.9M234.4 399.9h2.8M238.59 396.4V402.4M237.19 399.4h2.8M241.37 392.2V399.2M239.97 395.7h2.8M244.16 392.4V399.4M242.76 395.9h2.8M246.94 393.3V401.3M245.54 397.3h2.8M249.72 388.47V397.23M248.32 392.85h2.8M252.51 384.64V393.4M251.11 389.02h2.8M255.29 387.92V396.68M253.89 392.3h2.8M258.08 387.92V396.68M256.68 392.3h2.8M260.86 385.18V393.94M259.46 389.56h2.8M263.64 378.07V385.73M262.24 381.9h2.8M266.43 383.54V392.3M265.03 387.92h2.8M269.21 383.54V392.3M267.81 387.92h2.8M272 378.94V388.14M270.6 383.54h2.8M274.78 384.64V394.49M273.38 389.56h2.8M277.56 366.57V376.42M276.16 371.5h2.8M280.35 384.64V395.59M278.95 390.11h2.8M283.13 374.02V384.96M281.73 379.49h2.8M285.92 381.35V393.4M284.52 387.37h2.8M288.7 370.4V382.45M287.3 376.42h2.8M291.48 373.69V385.73M290.08 379.71h2.8M294.27 378.61V391.75M292.87 385.18h2.8M297.05 366.02V380.26M295.65 373.14h2.8M299.84 372.59V386.83M298.44 379.71h2.8M302.62 363.83V379.16M301.22 371.5h2.8M305.4 378.61V393.94M304 386.28h2.8M308.19 372.04V388.47M306.79 380.26h2.8M310.97 363.83V380.26M309.57 372.04h2.8M313.76 370.95V387.37M312.36 379.16h2.8M316.54 373.69V391.21M315.14 382.45h2.8M319.32 376.97V395.59M317.92 386.28h2.8M322.11 369.85V389.56M320.71 379.71h2.8" stroke="#ff5050" stroke-width="1" fill="none"/>
<g fill="#ff0000"><circle cx="46.49" cy="340.11" r="1.55"/><circle cx="49.28" cy="340.69" r="1.55"/><circle cx="52.06" cy="338.94" r="1.55"/><circle cx="54.84" cy="339.53" r="1.55"/><circle cx="57.63" cy="337.19" r="1.55"/><circle cx="60.41" cy="337.77" r="1.55"/><circle cx="63.2" cy="337.77" r="1.55"/><circle cx="65.98" cy="335.09" r="1.55"/><circle cx="68.76" cy="335.09" r="1.55"/><circle cx="71.55" cy="333.92" r="1.55"/><circle cx="74.33" cy="332.28" r="1.55"/><circle cx="77.12" cy="332.75" r="1.55"/><circle cx="79.9" cy="332.52" r="1.55"/><circle cx="82.68" cy="331.35" r="1.55"/><circle cx="85.47" cy="332.52" r="1.55"/><circle cx="88.25" cy="331.93" r="1.55"/><circle cx="91.04" cy="331.93" r="1.55"/><circle cx="93.82" cy="331.58" r="1.55"/><circle cx="96.6" cy="329.6" r="1.55"/><circle cx="99.39" cy="333.1" r="1.55"/><circle cx="102.17" cy="330.18" r="1.55"/><circle cx="104.96" cy="330.77" r="1.55"/><circle cx="107.74" cy="331.93" r="1.55"/><circle cx="110.52" cy="330.18" r="1.55"/><circle cx="113.31" cy="332.52" r="1.55"/><circle cx="116.09" cy="332.52" r="1.55"/><circle cx="118.88" cy="331.93" r="1.55"/><circle cx="121.66" cy="333.7" r="1.55"/><circle cx="124.44" cy="333.4" r="1.55"/><circle cx="127.23" cy="334.6" r="1.55"/><circle cx="130.01" cy="333.3" r="1.55"/><circle cx="132.8" cy="333.3" r="1.55"/><circle cx="135.58" cy="336" r="1.55"/><circle cx="138.36" cy="334.8" r="1.55"/><circle cx="141.15" cy="336.6" r="1.55"/><circle cx="143.93" cy="337.8" r="1.55"/><circle cx="146.72" cy="337.8" r="1.55"/><circle cx="149.5" cy="337.2" r="1.55"/><circle cx="152.28" cy="339.5" r="1.55"/><circle cx="155.07" cy="339.9" r="1.55"/><circle cx="157.85" cy="340.1" r="1.55"/><circle cx="160.64" cy="342.8" r="1.55"/><circle cx="163.42" cy="341.9" r="1.55"/><circle cx="166.2" cy="344.8" r="1.55"/><circle cx="168.99" cy="345.4" r="1.55"/><circle cx="171.77" cy="346.8" r="1.55"/><circle cx="174.56" cy="346.3" r="1.55"/><circle cx="177.34" cy="348.6" r="1.55"/><circle cx="180.12" cy="350.6" r="1.55"/><circle cx="182.91" cy="352.9" r="1.55"/><circle cx="185.69" cy="354.1" r="1.55"/><circle cx="188.48" cy="355.9" r="1.55"/><circle cx="191.26" cy="359.4" r="1.55"/><circle cx="194.04" cy="362.9" r="1.55"/><circle cx="196.83" cy="366.4" r="1.55"/><circle cx="199.61" cy="369.6" r="1.55"/><circle cx="202.4" cy="376" r="1.55"/><circle cx="205.18" cy="384.8" r="1.55"/><circle cx="207.96" cy="393.5" r="1.55"/><circle cx="210.75" cy="403.6" r="1.55"/><circle cx="213.53" cy="415.6" r="1.55"/><circle cx="216.32" cy="419.6" r="1.55"/><circle cx="219.1" cy="419.6" r="1.55"/><circle cx="221.88" cy="414.8" r="1.55"/><circle cx="224.67" cy="413.5" r="1.55"/><circle cx="227.45" cy="408.9" r="1.55"/><circle cx="230.24" cy="405.2" r="1.55"/><circle cx="233.02" cy="403.9" r="1.55"/><circle cx="235.8" cy="399.9" r="1.55"/><circle cx="238.59" cy="399.4" r="1.55"/><circle cx="241.37" cy="395.7" r="1.55"/><circle cx="244.16" cy="395.9" r="1.55"/><circle cx="246.94" cy="397.3" r="1.55"/><circle cx="249.72" cy="392.85" r="1.55"/><circle cx="252.51" cy="389.02" r="1.55"/><circle cx="255.29" cy="392.3" r="1.55"/><circle cx="258.08" cy="392.3" r="1.55"/><circle cx="260.86" cy="389.56" r="1.55"/><circle cx="263.64" cy="381.9" r="1.55"/><circle cx="266.43" cy="387.92" r="1.55"/><circle cx="269.21" cy="387.92" r="1.55"/><circle cx="272" cy="383.54" r="1.55"/><circle cx="274.78" cy="389.56" r="1.55"/><circle cx="277.56" cy="371.5" r="1.55"/><circle cx="280.35" cy="390.11" r="1.55"/><circle cx="283.13" cy="379.49" r="1.55"/><circle cx="285.92" cy="387.37" r="1.55"/><circle cx="288.7" cy="376.42" r="1.55"/><circle cx="291.48" cy="379.71" r="1.55"/><circle cx="294.27" cy="385.18" r="1.55"/><circle cx="297.05" cy="373.14" r="1.55"/><circle cx="299.84" cy="379.71" r="1.55"/><circle cx="302.62" cy="371.5" r="1.55"/><circle cx="305.4" cy="386.28" r="1.55"/><circle cx="308.19" cy="380.26" r="1.55"/><circle cx="310.97" cy="372.04" r="1.55"/><circle cx="313.76" cy="379.16" r="1.55"/><circle cx="316.54" cy="382.45" r="1.55"/><circle cx="319.32" cy="386.28" r="1.55"/><circle cx="322.11" cy="379.71" r="1.55"/></g>
<text transform="translate(10.6 256.4) rotate(-90)" text-anchor="end" font-size="12.2" fill="#1a1a1a">R</text>
<text x="322.2" y="490.3" text-anchor="end" font-size="12.2" fill="#1a1a1a">(GeV)</text>
<text x="266.1" y="490.3" font-size="12.2" fill="#1a1a1a">m</text>
<text x="275.9" y="484.4" font-size="8.6" fill="#1a1a1a" font-family="Liberation Serif, serif">&#956;&#957;</text>
<text x="276.9" y="494.5" font-size="8.2" fill="#1a1a1a">T</text>
<path d="M97.8 273.6h15.2 M105.4 266.1v15" stroke="#4848ff" stroke-width="1.1"/>
<circle cx="105.4" cy="273.6" r="1.6" fill="#0000ff"/>
<text transform="translate(116.4 280.1) scale(0.925 1)" font-size="10.1" fill="#1a1a1a">LO+PHOTOS / LO</text>
<path d="M97.8 299.2h15.2 M105.4 291.7v15" stroke="#ff4848" stroke-width="1.1"/>
<circle cx="105.4" cy="299.2" r="1.6" fill="#ff0000"/>
<text transform="translate(116.4 298.6) scale(0.925 1)" font-size="10.1" fill="#1a1a1a">POWHEG(QCD)+PYTHIA(QCD)+PHOTOS /</text>
<text transform="translate(116.4 310.8) scale(0.925 1)" font-size="10.1" fill="#1a1a1a">POWHEG(QCD)+PYTHIA(QCD)</text>
<path d="M408.57 455.9v-2.9M408.57 256.4v2.9M416.54 455.9v-2.9M416.54 256.4v2.9M424.51 455.9v-2.9M424.51 256.4v2.9M432.47 455.9v-2.9M432.47 256.4v2.9M440.44 455.9v-5.7M440.44 256.4v5.7M448.41 455.9v-2.9M448.41 256.4v2.9M456.38 455.9v-2.9M456.38 256.4v2.9M464.35 455.9v-2.9M464.35 256.4v2.9M472.32 455.9v-2.9M472.32 256.4v2.9M480.29 455.9v-5.7M480.29 256.4v5.7M488.25 455.9v-2.9M488.25 256.4v2.9M496.22 455.9v-2.9M496.22 256.4v2.9M504.19 455.9v-2.9M504.19 256.4v2.9M512.16 455.9v-2.9M512.16 256.4v2.9M520.13 455.9v-5.7M520.13 256.4v5.7M528.1 455.9v-2.9M528.1 256.4v2.9M536.07 455.9v-2.9M536.07 256.4v2.9M544.03 455.9v-2.9M544.03 256.4v2.9M552 455.9v-2.9M552 256.4v2.9M559.97 455.9v-5.7M559.97 256.4v5.7M567.94 455.9v-2.9M567.94 256.4v2.9M575.91 455.9v-2.9M575.91 256.4v2.9M583.88 455.9v-2.9M583.88 256.4v2.9M591.85 455.9v-2.9M591.85 256.4v2.9M599.81 455.9v-5.7M599.81 256.4v5.7M607.78 455.9v-2.9M607.78 256.4v2.9M615.75 455.9v-2.9M615.75 256.4v2.9M623.72 455.9v-2.9M623.72 256.4v2.9M631.69 455.9v-2.9M631.69 256.4v2.9M639.66 455.9v-5.7M639.66 256.4v5.7M647.63 455.9v-2.9M647.63 256.4v2.9M655.59 455.9v-2.9M655.59 256.4v2.9M663.56 455.9v-2.9M663.56 256.4v2.9M671.53 455.9v-2.9M671.53 256.4v2.9M400.6 450.91h4.2M679.5 450.91h-4.2M400.6 445.92h4.2M679.5 445.92h-4.2M400.6 440.94h4.2M679.5 440.94h-4.2M400.6 435.95h8.5M679.5 435.95h-8.5M400.6 430.96h4.2M679.5 430.96h-4.2M400.6 425.97h4.2M679.5 425.97h-4.2M400.6 420.99h4.2M679.5 420.99h-4.2M400.6 416h8.5M679.5 416h-8.5M400.6 411.01h4.2M679.5 411.01h-4.2M400.6 406.02h4.2M679.5 406.02h-4.2M400.6 401.04h4.2M679.5 401.04h-4.2M400.6 396.05h8.5M679.5 396.05h-8.5M400.6 391.06h4.2M679.5 391.06h-4.2M400.6 386.08h4.2M679.5 386.08h-4.2M400.6 381.09h4.2M679.5 381.09h-4.2M400.6 376.1h8.5M679.5 376.1h-8.5M400.6 371.11h4.2M679.5 371.11h-4.2M400.6 366.13h4.2M679.5 366.13h-4.2M400.6 361.14h4.2M679.5 361.14h-4.2M400.6 356.15h8.5M679.5 356.15h-8.5M400.6 351.16h4.2M679.5 351.16h-4.2M400.6 346.18h4.2M679.5 346.18h-4.2M400.6 341.19h4.2M679.5 341.19h-4.2M400.6 336.2h8.5M679.5 336.2h-8.5M400.6 331.21h4.2M679.5 331.21h-4.2M400.6 326.23h4.2M679.5 326.23h-4.2M400.6 321.24h4.2M679.5 321.24h-4.2M400.6 316.25h8.5M679.5 316.25h-8.5M400.6 311.26h4.2M679.5 311.26h-4.2M400.6 306.27h4.2M679.5 306.27h-4.2M400.6 301.29h4.2M679.5 301.29h-4.2M400.6 296.3h8.5M679.5 296.3h-8.5M400.6 291.31h4.2M679.5 291.31h-4.2M400.6 286.32h4.2M679.5 286.32h-4.2M400.6 281.34h4.2M679.5 281.34h-4.2M400.6 276.35h8.5M679.5 276.35h-8.5M400.6 271.36h4.2M679.5 271.36h-4.2M400.6 266.38h4.2M679.5 266.38h-4.2M400.6 261.39h4.2M679.5 261.39h-4.2" stroke="#1a1a1a" stroke-width="1" fill="none"/>
<rect x="400.6" y="256.4" width="278.9" height="199.5" fill="none" stroke="#1a1a1a" stroke-width="1.15"/>
<text x="399" y="459.9" class="t" text-anchor="end" font-size="10.0" fill="#1a1a1a" letter-spacing="-0.4">0.9</text>
<text x="399" y="439.95" class="t" text-anchor="end" font-size="10.0" fill="#1a1a1a" letter-spacing="-0.4">0.92</text>
<text x="399" y="420" class="t" text-anchor="end" font-size="10.0" fill="#1a1a1a" letter-spacing="-0.4">0.94</text>
<text x="399" y="400.05" class="t" text-anchor="end" font-size="10.0" fill="#1a1a1a" letter-spacing="-0.4">0.96</text>
<text x="399" y="380.1" class="t" text-anchor="end" font-size="10.0" fill="#1a1a1a" letter-spacing="-0.4">0.98</text>
<text x="399" y="360.15" class="t" text-anchor="end" font-size="10.0" fill="#1a1a1a" letter-spacing="-0.4">1</text>
<text x="399" y="340.2" class="t" text-anchor="end" font-size="10.0" fill="#1a1a1a" letter-spacing="-0.4">1.02</text>
<text x="399" y="320.25" class="t" text-anchor="end" font-size="10.0" fill="#1a1a1a" letter-spacing="-0.4">1.04</text>
<text x="399" y="300.3" class="t" text-anchor="end" font-size="10.0" fill="#1a1a1a" letter-spacing="-0.4">1.06</text>
<text x="399" y="280.35" class="t" text-anchor="end" font-size="10.0" fill="#1a1a1a" letter-spacing="-0.4">1.08</text>
<text x="399" y="260.4" class="t" text-anchor="end" font-size="10.0" fill="#1a1a1a" letter-spacing="-0.4">1.1</text>
<text x="400.75" y="468.5" class="t" text-anchor="middle" font-size="10.0" fill="#1a1a1a" letter-spacing="-0.3">25</text>
<text x="440.59" y="468.5" class="t" text-anchor="middle" font-size="10.0" fill="#1a1a1a" letter-spacing="-0.3">30</text>
<text x="480.44" y="468.5" class="t" text-anchor="middle" font-size="10.0" fill="#1a1a1a" letter-spacing="-0.3">35</text>
<text x="520.28" y="468.5" class="t" text-anchor="middle" font-size="10.0" fill="#1a1a1a" letter-spacing="-0.3">40</text>
<text x="560.12" y="468.5" class="t" text-anchor="middle" font-size="10.0" fill="#1a1a1a" letter-spacing="-0.3">45</text>
<text x="599.96" y="468.5" class="t" text-anchor="middle" font-size="10.0" fill="#1a1a1a" letter-spacing="-0.3">50</text>
<text x="639.81" y="468.5" class="t" text-anchor="middle" font-size="10.0" fill="#1a1a1a" letter-spacing="-0.3">55</text>
<text x="679.65" y="468.5" class="t" text-anchor="middle" font-size="10.0" fill="#1a1a1a" letter-spacing="-0.3">60</text>
<path d="M400.6 356.15H679.5" stroke="#222" stroke-width="1" stroke-dasharray="2.2 1.8"/>
<path d="M402.59 325.3V327.3M400.69 326.3h3.8M406.58 325.6V327.6M404.68 326.6h3.8M410.56 327V329M408.66 328h3.8M414.55 327.8V329.8M412.65 328.8h3.8M418.53 326.3V328.3M416.63 327.3h3.8M422.51 329.1V331.1M420.61 330.1h3.8M426.5 329.9V331.9M424.6 330.9h3.8M430.48 331.1V333.1M428.58 332.1h3.8M434.47 330.4V332.4M432.57 331.4h3.8M438.45 332.9V334.9M436.55 333.9h3.8M442.44 334.8V336.8M440.54 335.8h3.8M446.42 336V338M444.52 337h3.8M450.4 337V339M448.5 338h3.8M454.39 338.9V340.9M452.49 339.9h3.8M458.37 340.6V342.6M456.47 341.6h3.8M462.36 341.3V343.3M460.46 342.3h3.8M466.34 343.4V345.4M464.44 344.4h3.8M470.33 343.8V345.8M468.43 344.8h3.8M474.31 345.4V347.4M472.41 346.4h3.8M478.29 347.5V349.5M476.39 348.5h3.8M482.28 349.3V351.3M480.38 350.3h3.8M486.26 352.1V354.1M484.36 353.1h3.8M490.25 355.3V357.3M488.35 356.3h3.8M494.23 359.5V361.5M492.33 360.5h3.8M498.22 363V365M496.32 364h3.8M502.2 367.5V369.5M500.3 368.5h3.8M506.18 373.7V375.7M504.28 374.7h3.8M510.17 382.1V384.1M508.27 383.1h3.8M514.15 395.1V397.1M512.25 396.1h3.8M518.14 414.2V416.2M516.24 415.2h3.8M522.12 431.7V434.1M520.22 432.9h3.8M526.11 432.8V435.8M524.21 434.3h3.8M530.09 423V427M528.19 425h3.8M534.07 417.3V422.3M532.17 419.8h3.8M538.06 410.7V416.7M536.16 413.7h3.8M542.04 407.3V413.7M540.14 410.5h3.8M546.03 403.7V410.5M544.13 407.1h3.8M550.01 400.8V408M548.11 404.4h3.8M554 400.3V407.9M552.1 404.1h3.8M557.98 395.5V403.5M556.08 399.5h3.8M561.96 395.9V403.9M560.06 399.9h3.8M565.95 392.2V400.6M564.05 396.4h3.8M569.93 392.8V401.4M568.03 397.1h3.8M573.92 393.2V402M572.02 397.6h3.8M577.9 390.8V399.8M576 395.3h3.8M581.88 388.5V397.7M579.99 393.1h3.8M585.87 388V397.4M583.97 392.7h3.8M589.85 387.3V396.9M587.95 392.1h3.8M593.84 387.6V397.4M591.94 392.5h3.8M597.82 384.8V394.8M595.92 389.8h3.8M601.81 385.1V395.1M599.91 390.1h3.8M605.79 383.9V394.1M603.89 389h3.8M609.77 384.6V395M607.88 389.8h3.8M613.76 381.8V392.4M611.86 387.1h3.8M617.74 379.9V390.7M615.84 385.3h3.8M621.73 382V393M619.83 387.5h3.8M625.71 379.7V390.9M623.81 385.3h3.8M629.7 380.7V392.1M627.8 386.4h3.8M633.68 381.3V392.9M631.78 387.1h3.8M637.66 381.6V393.4M635.76 387.5h3.8M641.65 379.7V391.7M639.75 385.7h3.8M645.63 382V394M643.73 388h3.8M649.62 374.6V386.8M647.72 380.7h3.8M653.6 377.9V390.3M651.7 384.1h3.8M657.59 379V391.6M655.69 385.3h3.8M661.57 375.5V388.3M659.67 381.9h3.8M665.56 379.4V392.4M663.66 385.9h3.8M669.54 373V386.2M667.64 379.6h3.8M673.52 378.1V391.5M671.62 384.8h3.8M677.51 374.6V388.2M675.61 381.4h3.8" stroke="#5050ff" stroke-width="1" fill="none"/>
<g fill="#0000ff"><circle cx="402.59" cy="326.3" r="1.55"/><circle cx="406.58" cy="326.6" r="1.55"/><circle cx="410.56" cy="328" r="1.55"/><circle cx="414.55" cy="328.8" r="1.55"/><circle cx="418.53" cy="327.3" r="1.55"/><circle cx="422.51" cy="330.1" r="1.55"/><circle cx="426.5" cy="330.9" r="1.55"/><circle cx="430.48" cy="332.1" r="1.55"/><circle cx="434.47" cy="331.4" r="1.55"/><circle cx="438.45" cy="333.9" r="1.55"/><circle cx="442.44" cy="335.8" r="1.55"/><circle cx="446.42" cy="337" r="1.55"/><circle cx="450.4" cy="338" r="1.55"/><circle cx="454.39" cy="339.9" r="1.55"/><circle cx="458.37" cy="341.6" r="1.55"/><circle cx="462.36" cy="342.3" r="1.55"/><circle cx="466.34" cy="344.4" r="1.55"/><circle cx="470.33" cy="344.8" r="1.55"/><circle cx="474.31" cy="346.4" r="1.55"/><circle cx="478.29" cy="348.5" r="1.55"/><circle cx="482.28" cy="350.3" r="1.55"/><circle cx="486.26" cy="353.1" r="1.55"/><circle cx="490.25" cy="356.3" r="1.55"/><circle cx="494.23" cy="360.5" r="1.55"/><circle cx="498.22" cy="364" r="1.55"/><circle cx="502.2" cy="368.5" r="1.55"/><circle cx="506.18" cy="374.7" r="1.55"/><circle cx="510.17" cy="383.1" r="1.55"/><circle cx="514.15" cy="396.1" r="1.55"/><circle cx="518.14" cy="415.2" r="1.55"/><circle cx="522.12" cy="432.9" r="1.55"/><circle cx="526.11" cy="434.3" r="1.55"/><circle cx="530.09" cy="425" r="1.55"/><circle cx="534.07" cy="419.8" r="1.55"/><circle cx="538.06" cy="413.7" r="1.55"/><circle cx="542.04" cy="410.5" r="1.55"/><circle cx="546.03" cy="407.1" r="1.55"/><circle cx="550.01" cy="404.4" r="1.55"/><circle cx="554" cy="404.1" r="1.55"/><circle cx="557.98" cy="399.5" r="1.55"/><circle cx="561.96" cy="399.9" r="1.55"/><circle cx="565.95" cy="396.4" r="1.55"/><circle cx="569.93" cy="397.1" r="1.55"/><circle cx="573.92" cy="397.6" r="1.55"/><circle cx="577.9" cy="395.3" r="1.55"/><circle cx="581.88" cy="393.1" r="1.55"/><circle cx="585.87" cy="392.7" r="1.55"/><circle cx="589.85" cy="392.1" r="1.55"/><circle cx="593.84" cy="392.5" r="1.55"/><circle cx="597.82" cy="389.8" r="1.55"/><circle cx="601.81" cy="390.1" r="1.55"/><circle cx="605.79" cy="389" r="1.55"/><circle cx="609.77" cy="389.8" r="1.55"/><circle cx="613.76" cy="387.1" r="1.55"/><circle cx="617.74" cy="385.3" r="1.55"/><circle cx="621.73" cy="387.5" r="1.55"/><circle cx="625.71" cy="385.3" r="1.55"/><circle cx="629.7" cy="386.4" r="1.55"/><circle cx="633.68" cy="387.1" r="1.55"/><circle cx="637.66" cy="387.5" r="1.55"/><circle cx="641.65" cy="385.7" r="1.55"/><circle cx="645.63" cy="388" r="1.55"/><circle cx="649.62" cy="380.7" r="1.55"/><circle cx="653.6" cy="384.1" r="1.55"/><circle cx="657.59" cy="385.3" r="1.55"/><circle cx="661.57" cy="381.9" r="1.55"/><circle cx="665.56" cy="385.9" r="1.55"/><circle cx="669.54" cy="379.6" r="1.55"/><circle cx="673.52" cy="384.8" r="1.55"/><circle cx="677.51" cy="381.4" r="1.55"/></g>
<path d="M402.59 295.3V297.3M400.69 296.3h3.8M406.58 303.1V305.1M404.68 304.1h3.8M410.56 308.6V310.6M408.66 309.6h3.8M414.55 313.2V315.2M412.65 314.2h3.8M418.53 319.5V321.5M416.63 320.5h3.8M422.51 322.5V324.5M420.61 323.5h3.8M426.5 327V329M424.6 328h3.8M430.48 327.8V329.8M428.58 328.8h3.8M434.47 331.4V333.4M432.57 332.4h3.8M438.45 334.5V336.5M436.55 335.5h3.8M442.44 337.8V339.8M440.54 338.8h3.8M446.42 338.6V340.6M444.52 339.6h3.8M450.4 341.6V343.6M448.5 342.6h3.8M454.39 345V347M452.49 346h3.8M458.37 345.7V347.7M456.47 346.7h3.8M462.36 347.5V349.5M460.46 348.5h3.8M466.34 350V352M464.44 351h3.8M470.33 351V353M468.43 352h3.8M474.31 353.5V355.5M472.41 354.5h3.8M478.29 354.9V356.9M476.39 355.9h3.8M482.28 358.8V360.8M480.38 359.8h3.8M486.26 361.2V363.2M484.36 362.2h3.8M490.25 364V366M488.35 365h3.8M494.23 366.8V368.8M492.33 367.8h3.8M498.22 370V372M496.32 371h3.8M502.2 374.2V376.2M500.3 375.2h3.8M506.18 377.5V379.5M504.28 378.5h3.8M510.17 380V382M508.27 381h3.8M514.15 381V383M512.25 382h3.8M518.14 385.3V387.3M516.24 386.3h3.8M522.12 387.7V389.7M520.22 388.7h3.8M526.11 390.2V392.2M524.21 391.2h3.8M530.09 390.5V392.5M528.19 391.5h3.8M534.07 391.9V393.9M532.17 392.9h3.8M538.06 390.8V393.4M536.16 392.1h3.8M542.04 390.5V393.1M540.14 391.8h3.8M546.03 389.1V392.1M544.13 390.6h3.8M550.01 390.3V393.3M548.11 391.8h3.8M554 391.1V394.3M552.1 392.7h3.8M557.98 391V394.4M556.08 392.7h3.8M561.96 389.7V393.3M560.06 391.5h3.8M565.95 390.1V394.1M564.05 392.1h3.8M569.93 391.9V395.9M568.03 393.9h3.8M573.92 390.5V394.9M572.02 392.7h3.8M577.9 391.6V396.2M576 393.9h3.8M581.88 393.7V398.7M579.99 396.2h3.8M585.87 391.9V397.1M583.97 394.5h3.8M589.85 392.8V398.4M587.95 395.6h3.8M593.84 394.6V400.6M591.94 397.6h3.8M597.82 394.2V400.6M595.92 397.4h3.8M601.81 392.6V399.4M599.91 396h3.8M605.79 394.9V402.1M603.89 398.5h3.8M609.77 393.7V401.7M607.88 397.7h3.8M613.76 389.2V397.2M611.86 393.2h3.8M617.74 398.4V407.4M615.84 402.9h3.8M621.73 397.1V406.1M619.83 401.6h3.8M625.71 395V405M623.81 400h3.8M629.7 402.2V412.2M627.8 407.2h3.8M633.68 406.9V417.9M631.78 412.4h3.8M637.66 405.8V416.8M635.76 411.3h3.8M641.65 408.7V420.7M639.75 414.7h3.8M645.63 406.4V418.4M643.73 412.4h3.8M649.62 405.9V418.9M647.72 412.4h3.8M653.6 407V420M651.7 413.5h3.8M657.59 403.6V417.6M655.69 410.6h3.8M661.57 394.6V408.6M659.67 401.6h3.8M665.56 387.9V402.9M663.66 395.4h3.8M669.54 392V408M667.64 400h3.8M673.52 392V408M671.62 400h3.8M677.51 389.9V406.9M675.61 398.4h3.8" stroke="#ff5050" stroke-width="1" fill="none"/>
<g fill="#ff0000"><circle cx="402.59" cy="296.3" r="1.55"/><circle cx="406.58" cy="304.1" r="1.55"/><circle cx="410.56" cy="309.6" r="1.55"/><circle cx="414.55" cy="314.2" r="1.55"/><circle cx="418.53" cy="320.5" r="1.55"/><circle cx="422.51" cy="323.5" r="1.55"/><circle cx="426.5" cy="328" r="1.55"/><circle cx="430.48" cy="328.8" r="1.55"/><circle cx="434.47" cy="332.4" r="1.55"/><circle cx="438.45" cy="335.5" r="1.55"/><circle cx="442.44" cy="338.8" r="1.55"/><circle cx="446.42" cy="339.6" r="1.55"/><circle cx="450.4" cy="342.6" r="1.55"/><circle cx="454.39" cy="346" r="1.55"/><circle cx="458.37" cy="346.7" r="1.55"/><circle cx="462.36" cy="348.5" r="1.55"/><circle cx="466.34" cy="351" r="1.55"/><circle cx="470.33" cy="352" r="1.55"/><circle cx="474.31" cy="354.5" r="1.55"/><circle cx="478.29" cy="355.9" r="1.55"/><circle cx="482.28" cy="359.8" r="1.55"/><circle cx="486.26" cy="362.2" r="1.55"/><circle cx="490.25" cy="365" r="1.55"/><circle cx="494.23" cy="367.8" r="1.55"/><circle cx="498.22" cy="371" r="1.55"/><circle cx="502.2" cy="375.2" r="1.55"/><circle cx="506.18" cy="378.5" r="1.55"/><circle cx="510.17" cy="381" r="1.55"/><circle cx="514.15" cy="382" r="1.55"/><circle cx="518.14" cy="386.3" r="1.55"/><circle cx="522.12" cy="388.7" r="1.55"/><circle cx="526.11" cy="391.2" r="1.55"/><circle cx="530.09" cy="391.5" r="1.55"/><circle cx="534.07" cy="392.9" r="1.55"/><circle cx="538.06" cy="392.1" r="1.55"/><circle cx="542.04" cy="391.8" r="1.55"/><circle cx="546.03" cy="390.6" r="1.55"/><circle cx="550.01" cy="391.8" r="1.55"/><circle cx="554" cy="392.7" r="1.55"/><circle cx="557.98" cy="392.7" r="1.55"/><circle cx="561.96" cy="391.5" r="1.55"/><circle cx="565.95" cy="392.1" r="1.55"/><circle cx="569.93" cy="393.9" r="1.55"/><circle cx="573.92" cy="392.7" r="1.55"/><circle cx="577.9" cy="393.9" r="1.55"/><circle cx="581.88" cy="396.2" r="1.55"/><circle cx="585.87" cy="394.5" r="1.55"/><circle cx="589.85" cy="395.6" r="1.55"/><circle cx="593.84" cy="397.6" r="1.55"/><circle cx="597.82" cy="397.4" r="1.55"/><circle cx="601.81" cy="396" r="1.55"/><circle cx="605.79" cy="398.5" r="1.55"/><circle cx="609.77" cy="397.7" r="1.55"/><circle cx="613.76" cy="393.2" r="1.55"/><circle cx="617.74" cy="402.9" r="1.55"/><circle cx="621.73" cy="401.6" r="1.55"/><circle cx="625.71" cy="400" r="1.55"/><circle cx="629.7" cy="407.2" r="1.55"/><circle cx="633.68" cy="412.4" r="1.55"/><circle cx="637.66" cy="411.3" r="1.55"/><circle cx="641.65" cy="414.7" r="1.55"/><circle cx="645.63" cy="412.4" r="1.55"/><circle cx="649.62" cy="412.4" r="1.55"/><circle cx="653.6" cy="413.5" r="1.55"/><circle cx="657.59" cy="410.6" r="1.55"/><circle cx="661.57" cy="401.6" r="1.55"/><circle cx="665.56" cy="395.4" r="1.55"/><circle cx="669.54" cy="400" r="1.55"/><circle cx="673.52" cy="400" r="1.55"/><circle cx="677.51" cy="398.4" r="1.55"/></g>
<text transform="translate(366.5 256.4) rotate(-90)" text-anchor="end" font-size="12.2" fill="#1a1a1a">R</text>
<text x="678.2" y="488.7" text-anchor="end" font-size="12.2" fill="#1a1a1a">(GeV)</text>
<text x="629.4" y="488.7" font-size="12.2" fill="#1a1a1a">p</text>
<text x="636.7" y="482.4" font-size="8.6" fill="#1a1a1a" font-family="Liberation Serif, serif">&#956;</text>
<text x="636.9" y="495.2" font-size="8.2" fill="#1a1a1a">T</text>
<path d="M453.3 273.6h15.2 M460.9 266.1v15" stroke="#4848ff" stroke-width="1.1"/>
<circle cx="460.9" cy="273.6" r="1.6" fill="#0000ff"/>
<text transform="translate(471.9 280.1) scale(0.925 1)" font-size="10.1" fill="#1a1a1a">LO+PHOTOS / LO</text>
<path d="M453.3 299.2h15.2 M460.9 291.7v15" stroke="#ff4848" stroke-width="1.1"/>
<circle cx="460.9" cy="299.2" r="1.6" fill="#ff0000"/>
<text transform="translate(471.9 298.6) scale(0.925 1)" font-size="10.1" fill="#1a1a1a">POWHEG(QCD)+PYTHIA(QCD)+PHOTOS /</text>
<text transform="translate(471.9 310.8) scale(0.925 1)" font-size="10.1" fill="#1a1a1a">POWHEG(QCD)+PYTHIA(QCD)</text>
<path d="M50.67 710.3v-2.9M50.67 510.8v2.9M56.24 710.3v-2.9M56.24 510.8v2.9M61.8 710.3v-2.9M61.8 510.8v2.9M67.37 710.3v-2.9M67.37 510.8v2.9M72.94 710.3v-5.7M72.94 510.8v5.7M78.51 710.3v-2.9M78.51 510.8v2.9M84.08 710.3v-2.9M84.08 510.8v2.9M89.64 710.3v-2.9M89.64 510.8v2.9M95.21 710.3v-2.9M95.21 510.8v2.9M100.78 710.3v-5.7M100.78 510.8v5.7M106.35 710.3v-2.9M106.35 510.8v2.9M111.92 710.3v-2.9M111.92 510.8v2.9M117.48 710.3v-2.9M117.48 510.8v2.9M123.05 710.3v-2.9M123.05 510.8v2.9M128.62 710.3v-5.7M128.62 510.8v5.7M134.19 710.3v-2.9M134.19 510.8v2.9M139.76 710.3v-2.9M139.76 510.8v2.9M145.32 710.3v-2.9M145.32 510.8v2.9M150.89 710.3v-2.9M150.89 510.8v2.9M156.46 710.3v-5.7M156.46 510.8v5.7M162.03 710.3v-2.9M162.03 510.8v2.9M167.6 710.3v-2.9M167.6 510.8v2.9M173.16 710.3v-2.9M173.16 510.8v2.9M178.73 710.3v-2.9M178.73 510.8v2.9M184.3 710.3v-5.7M184.3 510.8v5.7M189.87 710.3v-2.9M189.87 510.8v2.9M195.44 710.3v-2.9M195.44 510.8v2.9M201 710.3v-2.9M201 510.8v2.9M206.57 710.3v-2.9M206.57 510.8v2.9M212.14 710.3v-5.7M212.14 510.8v5.7M217.71 710.3v-2.9M217.71 510.8v2.9M223.28 710.3v-2.9M223.28 510.8v2.9M228.84 710.3v-2.9M228.84 510.8v2.9M234.41 710.3v-2.9M234.41 510.8v2.9M239.98 710.3v-5.7M239.98 510.8v5.7M245.55 710.3v-2.9M245.55 510.8v2.9M251.12 710.3v-2.9M251.12 510.8v2.9M256.68 710.3v-2.9M256.68 510.8v2.9M262.25 710.3v-2.9M262.25 510.8v2.9M267.82 710.3v-5.7M267.82 510.8v5.7M273.39 710.3v-2.9M273.39 510.8v2.9M278.96 710.3v-2.9M278.96 510.8v2.9M284.52 710.3v-2.9M284.52 510.8v2.9M290.09 710.3v-2.9M290.09 510.8v2.9M295.66 710.3v-5.7M295.66 510.8v5.7M301.23 710.3v-2.9M301.23 510.8v2.9M306.8 710.3v-2.9M306.8 510.8v2.9M312.36 710.3v-2.9M312.36 510.8v2.9M317.93 710.3v-2.9M317.93 510.8v2.9M45.1 705.31h4.2M323.5 705.31h-4.2M45.1 700.32h4.2M323.5 700.32h-4.2M45.1 695.34h4.2M323.5 695.34h-4.2M45.1 690.35h4.2M323.5 690.35h-4.2M45.1 685.36h8.5M323.5 685.36h-8.5M45.1 680.38h4.2M323.5 680.38h-4.2M45.1 675.39h4.2M323.5 675.39h-4.2M45.1 670.4h4.2M323.5 670.4h-4.2M45.1 665.41h4.2M323.5 665.41h-4.2M45.1 660.42h8.5M323.5 660.42h-8.5M45.1 655.44h4.2M323.5 655.44h-4.2M45.1 650.45h4.2M323.5 650.45h-4.2M45.1 645.46h4.2M323.5 645.46h-4.2M45.1 640.47h4.2M323.5 640.47h-4.2M45.1 635.49h8.5M323.5 635.49h-8.5M45.1 630.5h4.2M323.5 630.5h-4.2M45.1 625.51h4.2M323.5 625.51h-4.2M45.1 620.52h4.2M323.5 620.52h-4.2M45.1 615.54h4.2M323.5 615.54h-4.2M45.1 610.55h8.5M323.5 610.55h-8.5M45.1 605.56h4.2M323.5 605.56h-4.2M45.1 600.57h4.2M323.5 600.57h-4.2M45.1 595.59h4.2M323.5 595.59h-4.2M45.1 590.6h4.2M323.5 590.6h-4.2M45.1 585.61h8.5M323.5 585.61h-8.5M45.1 580.62h4.2M323.5 580.62h-4.2M45.1 575.64h4.2M323.5 575.64h-4.2M45.1 570.65h4.2M323.5 570.65h-4.2M45.1 565.66h4.2M323.5 565.66h-4.2M45.1 560.67h8.5M323.5 560.67h-8.5M45.1 555.69h4.2M323.5 555.69h-4.2M45.1 550.7h4.2M323.5 550.7h-4.2M45.1 545.71h4.2M323.5 545.71h-4.2M45.1 540.73h4.2M323.5 540.73h-4.2M45.1 535.74h8.5M323.5 535.74h-8.5M45.1 530.75h4.2M323.5 530.75h-4.2M45.1 525.76h4.2M323.5 525.76h-4.2M45.1 520.77h4.2M323.5 520.77h-4.2M45.1 515.79h4.2M323.5 515.79h-4.2" stroke="#1a1a1a" stroke-width="1" fill="none"/>
<rect x="45.1" y="510.8" width="278.4" height="199.5" fill="none" stroke="#1a1a1a" stroke-width="1.15"/>
<text x="43.5" y="714.3" class="t" text-anchor="end" font-size="10.0" fill="#1a1a1a" letter-spacing="-0.4">0.98</text>
<text x="43.5" y="689.36" class="t" text-anchor="end" font-size="10.0" fill="#1a1a1a" letter-spacing="-0.4">0.985</text>
<text x="43.5" y="664.42" class="t" text-anchor="end" font-size="10.0" fill="#1a1a1a" letter-spacing="-0.4">0.99</text>
<text x="43.5" y="639.49" class="t" text-anchor="end" font-size="10.0" fill="#1a1a1a" letter-spacing="-0.4">0.995</text>
<text x="43.5" y="614.55" class="t" text-anchor="end" font-size="10.0" fill="#1a1a1a" letter-spacing="-0.4">1</text>
<text x="43.5" y="589.61" class="t" text-anchor="end" font-size="10.0" fill="#1a1a1a" letter-spacing="-0.4">1.005</text>
<text x="43.5" y="564.67" class="t" text-anchor="end" font-size="10.0" fill="#1a1a1a" letter-spacing="-0.4">1.01</text>
<text x="43.5" y="539.74" class="t" text-anchor="end" font-size="10.0" fill="#1a1a1a" letter-spacing="-0.4">1.015</text>
<text x="43.5" y="514.8" class="t" text-anchor="end" font-size="10.0" fill="#1a1a1a" letter-spacing="-0.4">1.02</text>
<text x="45.25" y="722.9" class="t" text-anchor="middle" font-size="10.0" fill="#1a1a1a" letter-spacing="-0.3">50</text>
<text x="73.09" y="722.9" class="t" text-anchor="middle" font-size="10.0" fill="#1a1a1a" letter-spacing="-0.3">55</text>
<text x="100.93" y="722.9" class="t" text-anchor="middle" font-size="10.0" fill="#1a1a1a" letter-spacing="-0.3">60</text>
<text x="128.77" y="722.9" class="t" text-anchor="middle" font-size="10.0" fill="#1a1a1a" letter-spacing="-0.3">65</text>
<text x="156.61" y="722.9" class="t" text-anchor="middle" font-size="10.0" fill="#1a1a1a" letter-spacing="-0.3">70</text>
<text x="184.45" y="722.9" class="t" text-anchor="middle" font-size="10.0" fill="#1a1a1a" letter-spacing="-0.3">75</text>
<text x="212.29" y="722.9" class="t" text-anchor="middle" font-size="10.0" fill="#1a1a1a" letter-spacing="-0.3">80</text>
<text x="240.13" y="722.9" class="t" text-anchor="middle" font-size="10.0" fill="#1a1a1a" letter-spacing="-0.3">85</text>
<text x="267.97" y="722.9" class="t" text-anchor="middle" font-size="10.0" fill="#1a1a1a" letter-spacing="-0.3">90</text>
<text x="295.81" y="722.9" class="t" text-anchor="middle" font-size="10.0" fill="#1a1a1a" letter-spacing="-0.3">95</text>
<text x="323.65" y="722.9" class="t" text-anchor="middle" font-size="10.0" fill="#1a1a1a" letter-spacing="-0.3">100</text>
<path d="M45.1 610.55H323.5" stroke="#222" stroke-width="1" stroke-dasharray="2.2 1.8"/>
<path d="M46.49 598.4V608M45.09 603.2h2.8M49.28 598.7V608.3M47.88 603.5h2.8M52.06 597.9V607.5M50.66 602.7h2.8M54.84 579.7V589.3M53.44 584.5h2.8M57.63 608.3V617.9M56.23 613.1h2.8M60.41 591.3V600.9M59.01 596.1h2.8M63.2 596.4V606M61.8 601.2h2.8M65.98 600.5V610.1M64.58 605.3h2.8M68.76 600.5V610.1M67.36 605.3h2.8M71.55 595.1V604.7M70.15 599.9h2.8M74.33 608.3V617.9M72.93 613.1h2.8M77.12 601.5V611.1M75.72 606.3h2.8M79.9 594V603.6M78.5 598.8h2.8M82.68 606.1V615.7M81.28 610.9h2.8M85.47 585.9V595.5M84.07 590.7h2.8M88.25 603.2V612.8M86.85 608h2.8M91.04 599.4V609M89.64 604.2h2.8M93.82 597.4V607M92.42 602.2h2.8M96.6 605.6V615.2M95.2 610.4h2.8M99.39 595.9V605.5M97.99 600.7h2.8M102.17 588.9V598.5M100.77 593.7h2.8M104.96 601.2V610.8M103.56 606h2.8M107.74 604.5V614.1M106.34 609.3h2.8M110.52 604.5V614.1M109.12 609.3h2.8M113.31 599.1V608.7M111.91 603.9h2.8M116.09 594.3V603.9M114.69 599.1h2.8M118.88 604.8V614.4M117.48 609.6h2.8M121.66 591.3V600.9M120.26 596.1h2.8M124.44 598.4V608M123.04 603.2h2.8M127.23 591.3V600.9M125.83 596.1h2.8M130.01 599.9V609.5M128.61 604.7h2.8M132.8 599.9V609.5M131.4 604.7h2.8M135.58 594.3V603.9M134.18 599.1h2.8M138.36 591.3V600.9M136.96 596.1h2.8M141.15 594.8V604.4M139.75 599.6h2.8M143.93 596.4V606M142.53 601.2h2.8M146.72 603.8V613.4M145.32 608.6h2.8M149.5 596.1V605.7M148.1 600.9h2.8M152.28 597.7V607.3M150.88 602.5h2.8M155.07 606.3V615.9M153.67 611.1h2.8M157.85 600.8V610.4M156.45 605.6h2.8M160.64 597.7V607.3M159.24 602.5h2.8M163.42 604.2V613.8M162.02 609h2.8M166.2 597.9V607.5M164.8 602.7h2.8M168.99 599.4V609M167.59 604.2h2.8M171.77 597.7V607.3M170.37 602.5h2.8M174.56 598.4V608M173.16 603.2h2.8M177.34 590.7V600.3M175.94 595.5h2.8M180.12 604.5V614.1M178.72 609.3h2.8M182.91 595.77V602.2M181.51 598.98h2.8M185.69 611.85V617.21M184.29 614.53h2.8M188.48 609.97V615.33M187.08 612.65h2.8M191.26 607.02V612.39M189.86 609.71h2.8M194.04 607.02V612.39M192.64 609.71h2.8M196.83 611.85V617.21M195.43 614.53h2.8M199.61 611.85V617.21M198.21 614.53h2.8M202.4 615.6V621.5M201 618.55h2.8M205.18 615.6V621.5M203.78 618.55h2.8M207.96 624.18V630.61M206.56 627.39h2.8M210.75 629.81V636.78M209.35 633.29h2.8M213.53 625.79V632.76M212.13 629.27h2.8M216.32 631.42V638.92M214.92 635.17h2.8M219.1 630.61V638.65M217.7 634.63h2.8M221.88 629.81V637.85M220.48 633.83h2.8M224.67 618.55V629.27M223.27 623.91h2.8M227.45 611.85V625.25M226.05 618.55h2.8M230.24 613.19V626.59M228.84 619.89h2.8M233.02 622.57V641.33M231.62 631.95h2.8M235.8 619.89V641.33M234.4 630.61h2.8M238.59 611.85V633.29M237.19 622.57h2.8M241.37 631.95V658.75M239.97 645.35h2.8M244.16 600.59V627.39M242.76 613.99h2.8M246.94 582.37V617.21M245.54 599.79h2.8M249.72 605.15V634.63M248.32 619.89h2.8M252.51 630.61V668.13M251.11 649.37h2.8M255.29 624.71V659.56M253.89 642.14h2.8M258.08 581.83V622.03M256.68 601.93h2.8M260.86 613.73V653.93M259.46 633.83h2.8M263.64 627.39V670.28M262.24 648.84h2.8M266.43 621.23V664.11M265.03 642.67h2.8M269.21 619.35V659.56M267.81 639.46h2.8M272 585.85V636.78M270.6 611.31h2.8M274.78 604.61V650.18M273.38 627.39h2.8M277.56 630.61V681.54M276.16 656.07h2.8M280.35 597.64V645.89M278.95 621.77h2.8M283.13 574.86V636.51M281.73 605.68h2.8M285.92 585.05V646.69M284.52 615.87h2.8M288.7 613.19V677.52M287.3 645.35h2.8M291.48 584.24V651.25M290.08 617.75h2.8M294.27 653.39V710.3M292.87 682.88h2.8M299.84 613.99V683.68M298.44 648.84h2.8M302.62 679.39V710.3M301.22 703.51h2.8M305.4 568.16V645.89M304 607.02h2.8M308.19 658.22V710.3M306.79 687.7h2.8M310.97 629.27V709.68M309.57 669.47h2.8M313.76 609.17V684.22M312.36 646.69h2.8M316.54 512.68V587.73M315.14 550.2h2.8M319.32 525.55V632.76M317.92 579.15h2.8M322.11 583.71V685.56M320.71 634.63h2.8" stroke="#5050ff" stroke-width="1" fill="none"/>
<g fill="#0000ff"><circle cx="46.49" cy="603.2" r="1.55"/><circle cx="49.28" cy="603.5" r="1.55"/><circle cx="52.06" cy="602.7" r="1.55"/><circle cx="54.84" cy="584.5" r="1.55"/><circle cx="57.63" cy="613.1" r="1.55"/><circle cx="60.41" cy="596.1" r="1.55"/><circle cx="63.2" cy="601.2" r="1.55"/><circle cx="65.98" cy="605.3" r="1.55"/><circle cx="68.76" cy="605.3" r="1.55"/><circle cx="71.55" cy="599.9" r="1.55"/><circle cx="74.33" cy="613.1" r="1.55"/><circle cx="77.12" cy="606.3" r="1.55"/><circle cx="79.9" cy="598.8" r="1.55"/><circle cx="82.68" cy="610.9" r="1.55"/><circle cx="85.47" cy="590.7" r="1.55"/><circle cx="88.25" cy="608" r="1.55"/><circle cx="91.04" cy="604.2" r="1.55"/><circle cx="93.82" cy="602.2" r="1.55"/><circle cx="96.6" cy="610.4" r="1.55"/><circle cx="99.39" cy="600.7" r="1.55"/><circle cx="102.17" cy="593.7" r="1.55"/><circle cx="104.96" cy="606" r="1.55"/><circle cx="107.74" cy="609.3" r="1.55"/><circle cx="110.52" cy="609.3" r="1.55"/><circle cx="113.31" cy="603.9" r="1.55"/><circle cx="116.09" cy="599.1" r="1.55"/><circle cx="118.88" cy="609.6" r="1.55"/><circle cx="121.66" cy="596.1" r="1.55"/><circle cx="124.44" cy="603.2" r="1.55"/><circle cx="127.23" cy="596.1" r="1.55"/><circle cx="130.01" cy="604.7" r="1.55"/><circle cx="132.8" cy="604.7" r="1.55"/><circle cx="135.58" cy="599.1" r="1.55"/><circle cx="138.36" cy="596.1" r="1.55"/><circle cx="141.15" cy="599.6" r="1.55"/><circle cx="143.93" cy="601.2" r="1.55"/><circle cx="146.72" cy="608.6" r="1.55"/><circle cx="149.5" cy="600.9" r="1.55"/><circle cx="152.28" cy="602.5" r="1.55"/><circle cx="155.07" cy="611.1" r="1.55"/><circle cx="157.85" cy="605.6" r="1.55"/><circle cx="160.64" cy="602.5" r="1.55"/><circle cx="163.42" cy="609" r="1.55"/><circle cx="166.2" cy="602.7" r="1.55"/><circle cx="168.99" cy="604.2" r="1.55"/><circle cx="171.77" cy="602.5" r="1.55"/><circle cx="174.56" cy="603.2" r="1.55"/><circle cx="177.34" cy="595.5" r="1.55"/><circle cx="180.12" cy="609.3" r="1.55"/><circle cx="182.91" cy="598.98" r="1.55"/><circle cx="185.69" cy="614.53" r="1.55"/><circle cx="188.48" cy="612.65" r="1.55"/><circle cx="191.26" cy="609.71" r="1.55"/><circle cx="194.04" cy="609.71" r="1.55"/><circle cx="196.83" cy="614.53" r="1.55"/><circle cx="199.61" cy="614.53" r="1.55"/><circle cx="202.4" cy="618.55" r="1.55"/><circle cx="205.18" cy="618.55" r="1.55"/><circle cx="207.96" cy="627.39" r="1.55"/><circle cx="210.75" cy="633.29" r="1.55"/><circle cx="213.53" cy="629.27" r="1.55"/><circle cx="216.32" cy="635.17" r="1.55"/><circle cx="219.1" cy="634.63" r="1.55"/><circle cx="221.88" cy="633.83" r="1.55"/><circle cx="224.67" cy="623.91" r="1.55"/><circle cx="227.45" cy="618.55" r="1.55"/><circle cx="230.24" cy="619.89" r="1.55"/><circle cx="233.02" cy="631.95" r="1.55"/><circle cx="235.8" cy="630.61" r="1.55"/><circle cx="238.59" cy="622.57" r="1.55"/><circle cx="241.37" cy="645.35" r="1.55"/><circle cx="244.16" cy="613.99" r="1.55"/><circle cx="246.94" cy="599.79" r="1.55"/><circle cx="249.72" cy="619.89" r="1.55"/><circle cx="252.51" cy="649.37" r="1.55"/><circle cx="255.29" cy="642.14" r="1.55"/><circle cx="258.08" cy="601.93" r="1.55"/><circle cx="260.86" cy="633.83" r="1.55"/><circle cx="263.64" cy="648.84" r="1.55"/><circle cx="266.43" cy="642.67" r="1.55"/><circle cx="269.21" cy="639.46" r="1.55"/><circle cx="272" cy="611.31" r="1.55"/><circle cx="274.78" cy="627.39" r="1.55"/><circle cx="277.56" cy="656.07" r="1.55"/><circle cx="280.35" cy="621.77" r="1.55"/><circle cx="283.13" cy="605.68" r="1.55"/><circle cx="285.92" cy="615.87" r="1.55"/><circle cx="288.7" cy="645.35" r="1.55"/><circle cx="291.48" cy="617.75" r="1.55"/><circle cx="294.27" cy="682.88" r="1.55"/><circle cx="299.84" cy="648.84" r="1.55"/><circle cx="302.62" cy="703.51" r="1.55"/><circle cx="305.4" cy="607.02" r="1.55"/><circle cx="308.19" cy="687.7" r="1.55"/><circle cx="310.97" cy="669.47" r="1.55"/><circle cx="313.76" cy="646.69" r="1.55"/><circle cx="316.54" cy="550.2" r="1.55"/><circle cx="319.32" cy="579.15" r="1.55"/><circle cx="322.11" cy="634.63" r="1.55"/></g>
<text transform="translate(10.6 510.8) rotate(-90)" text-anchor="end" font-size="12.2" fill="#1a1a1a">R</text>
<text x="322.2" y="744.5" text-anchor="end" font-size="12.2" fill="#1a1a1a">(GeV)</text>
<text x="266.1" y="744.5" font-size="12.2" fill="#1a1a1a">m</text>
<text x="275.9" y="738.6" font-size="8.6" fill="#1a1a1a" font-family="Liberation Serif, serif">&#956;&#957;</text>
<text x="276.9" y="748.7" font-size="8.2" fill="#1a1a1a">T</text>
<path d="M62.8 536h15.4 M70.5 528.3v15.4" stroke="#4848ff" stroke-width="1.1"/>
<circle cx="70.5" cy="536" r="1.6" fill="#0000ff"/>
<text transform="translate(81 535) scale(0.925 1)" font-size="10.1" fill="#1a1a1a">POWHEG(QCD,EW)+PYTHIA(QCD)+PHOTOS /</text>
<text transform="translate(81 546.9) scale(0.925 1)" font-size="10.1" fill="#1a1a1a">POWHEG(QCD)+PYTHIA(QCD)+PHOTOS</text>
<path d="M408.57 710.3v-2.9M408.57 510.8v2.9M416.54 710.3v-2.9M416.54 510.8v2.9M424.51 710.3v-2.9M424.51 510.8v2.9M432.47 710.3v-2.9M432.47 510.8v2.9M440.44 710.3v-5.7M440.44 510.8v5.7M448.41 710.3v-2.9M448.41 510.8v2.9M456.38 710.3v-2.9M456.38 510.8v2.9M464.35 710.3v-2.9M464.35 510.8v2.9M472.32 710.3v-2.9M472.32 510.8v2.9M480.29 710.3v-5.7M480.29 510.8v5.7M488.25 710.3v-2.9M488.25 510.8v2.9M496.22 710.3v-2.9M496.22 510.8v2.9M504.19 710.3v-2.9M504.19 510.8v2.9M512.16 710.3v-2.9M512.16 510.8v2.9M520.13 710.3v-5.7M520.13 510.8v5.7M528.1 710.3v-2.9M528.1 510.8v2.9M536.07 710.3v-2.9M536.07 510.8v2.9M544.03 710.3v-2.9M544.03 510.8v2.9M552 710.3v-2.9M552 510.8v2.9M559.97 710.3v-5.7M559.97 510.8v5.7M567.94 710.3v-2.9M567.94 510.8v2.9M575.91 710.3v-2.9M575.91 510.8v2.9M583.88 710.3v-2.9M583.88 510.8v2.9M591.85 710.3v-2.9M591.85 510.8v2.9M599.81 710.3v-5.7M599.81 510.8v5.7M607.78 710.3v-2.9M607.78 510.8v2.9M615.75 710.3v-2.9M615.75 510.8v2.9M623.72 710.3v-2.9M623.72 510.8v2.9M631.69 710.3v-2.9M631.69 510.8v2.9M639.66 710.3v-5.7M639.66 510.8v5.7M647.63 710.3v-2.9M647.63 510.8v2.9M655.59 710.3v-2.9M655.59 510.8v2.9M663.56 710.3v-2.9M663.56 510.8v2.9M671.53 710.3v-2.9M671.53 510.8v2.9M400.6 705.31h4.2M679.5 705.31h-4.2M400.6 700.32h4.2M679.5 700.32h-4.2M400.6 695.34h4.2M679.5 695.34h-4.2M400.6 690.35h4.2M679.5 690.35h-4.2M400.6 685.36h8.5M679.5 685.36h-8.5M400.6 680.38h4.2M679.5 680.38h-4.2M400.6 675.39h4.2M679.5 675.39h-4.2M400.6 670.4h4.2M679.5 670.4h-4.2M400.6 665.41h4.2M679.5 665.41h-4.2M400.6 660.42h8.5M679.5 660.42h-8.5M400.6 655.44h4.2M679.5 655.44h-4.2M400.6 650.45h4.2M679.5 650.45h-4.2M400.6 645.46h4.2M679.5 645.46h-4.2M400.6 640.47h4.2M679.5 640.47h-4.2M400.6 635.49h8.5M679.5 635.49h-8.5M400.6 630.5h4.2M679.5 630.5h-4.2M400.6 625.51h4.2M679.5 625.51h-4.2M400.6 620.52h4.2M679.5 620.52h-4.2M400.6 615.54h4.2M679.5 615.54h-4.2M400.6 610.55h8.5M679.5 610.55h-8.5M400.6 605.56h4.2M679.5 605.56h-4.2M400.6 600.57h4.2M679.5 600.57h-4.2M400.6 595.59h4.2M679.5 595.59h-4.2M400.6 590.6h4.2M679.5 590.6h-4.2M400.6 585.61h8.5M679.5 585.61h-8.5M400.6 580.62h4.2M679.5 580.62h-4.2M400.6 575.64h4.2M679.5 575.64h-4.2M400.6 570.65h4.2M679.5 570.65h-4.2M400.6 565.66h4.2M679.5 565.66h-4.2M400.6 560.67h8.5M679.5 560.67h-8.5M400.6 555.69h4.2M679.5 555.69h-4.2M400.6 550.7h4.2M679.5 550.7h-4.2M400.6 545.71h4.2M679.5 545.71h-4.2M400.6 540.73h4.2M679.5 540.73h-4.2M400.6 535.74h8.5M679.5 535.74h-8.5M400.6 530.75h4.2M679.5 530.75h-4.2M400.6 525.76h4.2M679.5 525.76h-4.2M400.6 520.77h4.2M679.5 520.77h-4.2M400.6 515.79h4.2M679.5 515.79h-4.2" stroke="#1a1a1a" stroke-width="1" fill="none"/>
<rect x="400.6" y="510.8" width="278.9" height="199.5" fill="none" stroke="#1a1a1a" stroke-width="1.15"/>
<text x="399" y="714.3" class="t" text-anchor="end" font-size="10.0" fill="#1a1a1a" letter-spacing="-0.4">0.98</text>
<text x="399" y="689.36" class="t" text-anchor="end" font-size="10.0" fill="#1a1a1a" letter-spacing="-0.4">0.985</text>
<text x="399" y="664.42" class="t" text-anchor="end" font-size="10.0" fill="#1a1a1a" letter-spacing="-0.4">0.99</text>
<text x="399" y="639.49" class="t" text-anchor="end" font-size="10.0" fill="#1a1a1a" letter-spacing="-0.4">0.995</text>
<text x="399" y="614.55" class="t" text-anchor="end" font-size="10.0" fill="#1a1a1a" letter-spacing="-0.4">1</text>
<text x="399" y="589.61" class="t" text-anchor="end" font-size="10.0" fill="#1a1a1a" letter-spacing="-0.4">1.005</text>
<text x="399" y="564.67" class="t" text-anchor="end" font-size="10.0" fill="#1a1a1a" letter-spacing="-0.4">1.01</text>
<text x="399" y="539.74" class="t" text-anchor="end" font-size="10.0" fill="#1a1a1a" letter-spacing="-0.4">1.015</text>
<text x="399" y="514.8" class="t" text-anchor="end" font-size="10.0" fill="#1a1a1a" letter-spacing="-0.4">1.02</text>
<text x="400.75" y="722.9" class="t" text-anchor="middle" font-size="10.0" fill="#1a1a1a" letter-spacing="-0.3">25</text>
<text x="440.59" y="722.9" class="t" text-anchor="middle" font-size="10.0" fill="#1a1a1a" letter-spacing="-0.3">30</text>
<text x="480.44" y="722.9" class="t" text-anchor="middle" font-size="10.0" fill="#1a1a1a" letter-spacing="-0.3">35</text>
<text x="520.28" y="722.9" class="t" text-anchor="middle" font-size="10.0" fill="#1a1a1a" letter-spacing="-0.3">40</text>
<text x="560.12" y="722.9" class="t" text-anchor="middle" font-size="10.0" fill="#1a1a1a" letter-spacing="-0.3">45</text>
<text x="599.96" y="722.9" class="t" text-anchor="middle" font-size="10.0" fill="#1a1a1a" letter-spacing="-0.3">50</text>
<text x="639.81" y="722.9" class="t" text-anchor="middle" font-size="10.0" fill="#1a1a1a" letter-spacing="-0.3">55</text>
<text x="679.65" y="722.9" class="t" text-anchor="middle" font-size="10.0" fill="#1a1a1a" letter-spacing="-0.3">60</text>
<path d="M400.6 610.55H679.5" stroke="#222" stroke-width="1" stroke-dasharray="2.2 1.8"/>
<path d="M402.59 588.3V597.5M400.69 592.9h3.8M406.58 591.9V601.1M404.68 596.5h3.8M410.56 591.4V600.6M408.66 596h3.8M414.55 589.6V598.8M412.65 594.2h3.8M418.53 592.4V601.6M416.63 597h3.8M422.51 599.5V608.7M420.61 604.1h3.8M426.5 598.8V608M424.6 603.4h3.8M430.48 600.9V610.1M428.58 605.5h3.8M434.47 600.2V609.4M432.57 604.8h3.8M438.45 595.7V604.9M436.55 600.3h3.8M442.44 597.2V606.4M440.54 601.8h3.8M446.42 600.9V610.1M444.52 605.5h3.8M450.4 601.1V610.3M448.5 605.7h3.8M454.39 594.9V604.1M452.49 599.5h3.8M458.37 604.6V613.8M456.47 609.2h3.8M462.36 607.4V616.6M460.46 612h3.8M466.34 601.3V610.5M464.44 605.9h3.8M470.33 605.5V614.7M468.43 610.1h3.8M474.31 604.5V613.7M472.41 609.1h3.8M478.29 604V613.2M476.39 608.6h3.8M482.28 604.5V613.7M480.38 609.1h3.8M486.26 604.5V613.7M484.36 609.1h3.8M490.25 608.9V618.1M488.35 613.5h3.8M494.23 606.5V615.7M492.33 611.1h3.8M498.22 606.5V615.7M496.32 611.1h3.8M502.2 610.6V619.8M500.3 615.2h3.8M506.18 612.6V621.8M504.28 617.2h3.8M510.17 613.6V622.8M508.27 618.2h3.8M514.15 623.3V632.5M512.25 627.9h3.8M518.14 611.6V620.8M516.24 616.2h3.8M522.12 623.3V632.5M520.22 627.9h3.8M526.11 618.8V628M524.21 623.4h3.8M530.09 610.2V619.4M528.19 614.8h3.8M534.07 613.6V622.8M532.17 618.2h3.8M538.06 617.2V623.6M536.16 620.4h3.8M542.04 615.5V623.5M540.14 619.5h3.8M546.03 626.7V634.7M544.13 630.7h3.8M550.01 611.7V621.3M548.11 616.5h3.8M554 615.2V624.8M552.1 620h3.8M557.98 611.4V622.2M556.08 616.8h3.8M561.96 620V631.8M560.06 625.9h3.8M565.95 612.5V625.9M564.05 619.2h3.8M569.93 612.8V626.2M568.03 619.5h3.8M573.92 610.4V625.4M572.02 617.9h3.8M577.9 609.9V625.9M576 617.9h3.8M581.88 613.8V628.8M579.99 621.3h3.8M585.87 614.6V631.8M583.97 623.2h3.8M589.85 603.1V621.9M587.95 612.5h3.8M593.84 597.7V618.1M591.94 607.9h3.8M597.82 612V632.4M595.92 622.2h3.8M601.81 615.5V636.9M599.91 626.2h3.8M605.79 609.9V633.9M603.89 621.9h3.8M609.77 621V645M607.88 633h3.8M613.76 652.5V665.1M611.86 658.8h3.8M617.74 592.8V620.8M615.84 606.8h3.8M621.73 628.1V657.3M619.83 642.7h3.8M625.71 628.6V660M623.81 644.3h3.8M629.7 619.4V653M627.8 636.2h3.8M633.68 596.4V632.4M631.78 614.4h3.8M637.66 590.5V629.5M635.76 610h3.8M641.65 617.6V659.6M639.75 638.6h3.8M645.63 601.9V647.9M643.73 624.9h3.8M649.62 638.7V690.1M647.72 664.4h3.8M653.6 633.8V691.8M651.7 662.8h3.8M657.59 651V710.3M655.69 684h3.8M661.57 586.5V662.5M659.67 624.5h3.8M665.56 584.5V670.5M663.66 627.5h3.8M669.54 580.1V672.1M667.64 626.1h3.8M673.52 612.8V710.3M671.62 661.8h3.8M677.51 635.4V710.3M675.61 687.4h3.8" stroke="#5050ff" stroke-width="1" fill="none"/>
<g fill="#0000ff"><circle cx="402.59" cy="592.9" r="1.55"/><circle cx="406.58" cy="596.5" r="1.55"/><circle cx="410.56" cy="596" r="1.55"/><circle cx="414.55" cy="594.2" r="1.55"/><circle cx="418.53" cy="597" r="1.55"/><circle cx="422.51" cy="604.1" r="1.55"/><circle cx="426.5" cy="603.4" r="1.55"/><circle cx="430.48" cy="605.5" r="1.55"/><circle cx="434.47" cy="604.8" r="1.55"/><circle cx="438.45" cy="600.3" r="1.55"/><circle cx="442.44" cy="601.8" r="1.55"/><circle cx="446.42" cy="605.5" r="1.55"/><circle cx="450.4" cy="605.7" r="1.55"/><circle cx="454.39" cy="599.5" r="1.55"/><circle cx="458.37" cy="609.2" r="1.55"/><circle cx="462.36" cy="612" r="1.55"/><circle cx="466.34" cy="605.9" r="1.55"/><circle cx="470.33" cy="610.1" r="1.55"/><circle cx="474.31" cy="609.1" r="1.55"/><circle cx="478.29" cy="608.6" r="1.55"/><circle cx="482.28" cy="609.1" r="1.55"/><circle cx="486.26" cy="609.1" r="1.55"/><circle cx="490.25" cy="613.5" r="1.55"/><circle cx="494.23" cy="611.1" r="1.55"/><circle cx="498.22" cy="611.1" r="1.55"/><circle cx="502.2" cy="615.2" r="1.55"/><circle cx="506.18" cy="617.2" r="1.55"/><circle cx="510.17" cy="618.2" r="1.55"/><circle cx="514.15" cy="627.9" r="1.55"/><circle cx="518.14" cy="616.2" r="1.55"/><circle cx="522.12" cy="627.9" r="1.55"/><circle cx="526.11" cy="623.4" r="1.55"/><circle cx="530.09" cy="614.8" r="1.55"/><circle cx="534.07" cy="618.2" r="1.55"/><circle cx="538.06" cy="620.4" r="1.55"/><circle cx="542.04" cy="619.5" r="1.55"/><circle cx="546.03" cy="630.7" r="1.55"/><circle cx="550.01" cy="616.5" r="1.55"/><circle cx="554" cy="620" r="1.55"/><circle cx="557.98" cy="616.8" r="1.55"/><circle cx="561.96" cy="625.9" r="1.55"/><circle cx="565.95" cy="619.2" r="1.55"/><circle cx="569.93" cy="619.5" r="1.55"/><circle cx="573.92" cy="617.9" r="1.55"/><circle cx="577.9" cy="617.9" r="1.55"/><circle cx="581.88" cy="621.3" r="1.55"/><circle cx="585.87" cy="623.2" r="1.55"/><circle cx="589.85" cy="612.5" r="1.55"/><circle cx="593.84" cy="607.9" r="1.55"/><circle cx="597.82" cy="622.2" r="1.55"/><circle cx="601.81" cy="626.2" r="1.55"/><circle cx="605.79" cy="621.9" r="1.55"/><circle cx="609.77" cy="633" r="1.55"/><circle cx="613.76" cy="658.8" r="1.55"/><circle cx="617.74" cy="606.8" r="1.55"/><circle cx="621.73" cy="642.7" r="1.55"/><circle cx="625.71" cy="644.3" r="1.55"/><circle cx="629.7" cy="636.2" r="1.55"/><circle cx="633.68" cy="614.4" r="1.55"/><circle cx="637.66" cy="610" r="1.55"/><circle cx="641.65" cy="638.6" r="1.55"/><circle cx="645.63" cy="624.9" r="1.55"/><circle cx="649.62" cy="664.4" r="1.55"/><circle cx="653.6" cy="662.8" r="1.55"/><circle cx="657.59" cy="684" r="1.55"/><circle cx="661.57" cy="624.5" r="1.55"/><circle cx="665.56" cy="627.5" r="1.55"/><circle cx="669.54" cy="626.1" r="1.55"/><circle cx="673.52" cy="661.8" r="1.55"/><circle cx="677.51" cy="687.4" r="1.55"/></g>
<text transform="translate(366.5 510.8) rotate(-90)" text-anchor="end" font-size="12.2" fill="#1a1a1a">R</text>
<text x="678.2" y="743.1" text-anchor="end" font-size="12.2" fill="#1a1a1a">(GeV)</text>
<text x="629.4" y="743.1" font-size="12.2" fill="#1a1a1a">p</text>
<text x="636.7" y="736.8" font-size="8.6" fill="#1a1a1a" font-family="Liberation Serif, serif">&#956;</text>
<text x="636.9" y="749.6" font-size="8.2" fill="#1a1a1a">T</text>
<path d="M418.3 536h15.4 M426 528.3v15.4" stroke="#4848ff" stroke-width="1.1"/>
<circle cx="426" cy="536" r="1.6" fill="#0000ff"/>
<text transform="translate(436.5 535) scale(0.925 1)" font-size="10.1" fill="#1a1a1a">POWHEG(QCD,EW)+PYTHIA(QCD)+PHOTOS /</text>
<text transform="translate(436.5 546.9) scale(0.925 1)" font-size="10.1" fill="#1a1a1a">POWHEG(QCD)+PYTHIA(QCD)+PHOTOS</text>
</svg>
</body></html>
